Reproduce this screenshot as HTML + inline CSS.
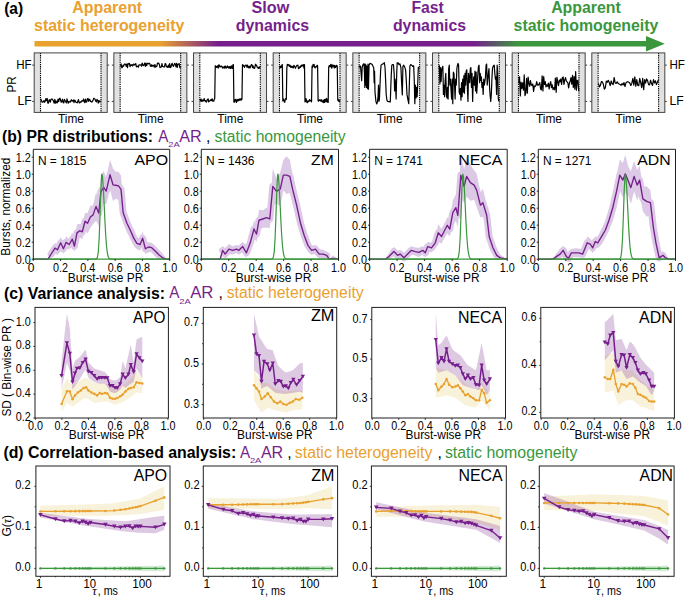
<!DOCTYPE html>
<html><head><meta charset="utf-8"><style>
html,body{margin:0;padding:0;background:#fff;width:685px;height:598px;overflow:hidden}
svg{display:block}
text{font-family:"Liberation Sans", sans-serif}
</style></head><body>
<svg width="685" height="598" viewBox="0 0 685 598">
<rect width="685" height="598" fill="#fff"/>
<text x="4.20" y="13.50" font-size="16.5" fill="#000" font-weight="bold" textLength="19.00" lengthAdjust="spacingAndGlyphs" >(a)</text>
<text x="107.20" y="12.80" font-size="16.3" fill="#E9A12F" font-weight="bold" text-anchor="middle" textLength="70.00" lengthAdjust="spacingAndGlyphs" >Apparent</text>
<text x="109.20" y="31.10" font-size="16.3" fill="#E9A12F" font-weight="bold" text-anchor="middle" textLength="150.20" lengthAdjust="spacingAndGlyphs" >static heterogeneity</text>
<text x="270.40" y="12.80" font-size="16.3" fill="#761F8C" font-weight="bold" text-anchor="middle" textLength="37.80" lengthAdjust="spacingAndGlyphs" >Slow</text>
<text x="272.40" y="31.10" font-size="16.3" fill="#761F8C" font-weight="bold" text-anchor="middle" textLength="73.40" lengthAdjust="spacingAndGlyphs" >dynamics</text>
<text x="427.60" y="12.80" font-size="16.3" fill="#761F8C" font-weight="bold" text-anchor="middle" textLength="32.40" lengthAdjust="spacingAndGlyphs" >Fast</text>
<text x="429.50" y="31.10" font-size="16.3" fill="#761F8C" font-weight="bold" text-anchor="middle" textLength="73.20" lengthAdjust="spacingAndGlyphs" >dynamics</text>
<text x="586.00" y="12.80" font-size="16.3" fill="#3A973D" font-weight="bold" text-anchor="middle" textLength="69.70" lengthAdjust="spacingAndGlyphs" >Apparent</text>
<text x="586.00" y="31.10" font-size="16.3" fill="#3A973D" font-weight="bold" text-anchor="middle" textLength="144.80" lengthAdjust="spacingAndGlyphs" >static homogeneity</text>
<defs><linearGradient id="bar" gradientUnits="userSpaceOnUse" x1="34" y1="0" x2="665" y2="0"><stop offset="0.1997" stop-color="#E9A12F"/><stop offset="0.2916" stop-color="#761F8C"/><stop offset="0.6973" stop-color="#761F8C"/><stop offset="0.7670" stop-color="#3A973D"/></linearGradient></defs>
<rect x="34.5" y="41.0" width="612" height="5.5" fill="url(#bar)"/>
<polygon points="646.00,36.00 664.80,43.75 646.00,51.40" fill="#3A973D" />
<rect x="34.20" y="52.9" width="6.2" height="59.50" fill="#E1E1E1"/>
<rect x="101.00" y="52.9" width="6.2" height="59.50" fill="#E1E1E1"/>
<line x1="40.50" y1="52.9" x2="40.50" y2="112.4" stroke="#000" stroke-width="1.1" stroke-dasharray="1.3 0.9"/>
<line x1="101.00" y1="52.9" x2="101.00" y2="112.4" stroke="#000" stroke-width="1.1" stroke-dasharray="1.3 0.9"/>
<line x1="32.20" y1="65.10" x2="34.20" y2="65.10" stroke="#222" stroke-width="0.9"/>
<line x1="107.20" y1="65.10" x2="109.20" y2="65.10" stroke="#222" stroke-width="0.9"/>
<line x1="32.20" y1="101.40" x2="34.20" y2="101.40" stroke="#222" stroke-width="0.9"/>
<line x1="107.20" y1="101.40" x2="109.20" y2="101.40" stroke="#222" stroke-width="0.9"/>
<polyline points="40.80,98.96 41.44,100.57 42.08,102.21 42.71,101.87 43.35,102.01 43.99,100.45 44.63,102.36 45.27,100.97 45.91,98.62 46.54,100.57 47.18,98.45 47.82,103.05 48.46,103.12 49.10,99.94 49.74,99.81 50.37,102.19 51.01,99.26 51.65,99.13 52.29,99.18 52.93,100.00 53.57,101.46 54.20,103.21 54.84,99.30 55.48,103.17 56.12,101.09 56.76,102.89 57.40,102.45 58.03,99.03 58.67,101.57 59.31,98.85 59.95,98.23 60.59,100.26 61.23,102.22 61.86,101.14 62.50,99.20 63.14,102.57 63.78,102.95 64.42,99.43 65.06,100.53 65.69,101.52 66.33,102.89 66.97,98.86 67.61,101.08 68.25,103.24 68.89,101.37 69.52,101.93 70.16,102.23 70.80,100.84 71.44,99.71 72.08,101.27 72.71,100.95 73.35,99.98 73.99,102.64 74.63,100.09 75.27,100.71 75.91,102.16 76.54,102.43 77.18,102.83 77.82,101.59 78.46,99.51 79.10,102.61 79.74,102.93 80.37,101.92 81.01,102.19 81.65,100.87 82.29,100.77 82.93,101.23 83.57,98.97 84.20,101.72 84.84,102.68 85.48,99.06 86.12,102.12 86.76,101.87 87.40,98.83 88.03,98.46 88.67,101.30 89.31,99.34 89.95,99.81 90.59,101.43 91.23,101.58 91.86,102.09 92.50,101.15 93.14,99.94 93.78,98.27 94.42,98.79 95.06,99.20 95.69,100.93 96.33,101.94 96.97,99.29 97.61,100.23 98.25,103.07 98.89,100.28 99.52,101.91 100.16,101.42 100.80,101.63" fill="none" stroke="#000" stroke-width="1.2" stroke-linejoin="round" />
<rect x="34.20" y="52.9" width="73.0" height="59.50" fill="none" stroke="#444" stroke-width="1"/>
<text x="71.00" y="122.80" font-size="12.2" fill="#000" text-anchor="middle" textLength="26.00" lengthAdjust="spacingAndGlyphs" >Time</text>
<rect x="113.86" y="52.9" width="6.2" height="59.50" fill="#E1E1E1"/>
<rect x="180.66" y="52.9" width="6.2" height="59.50" fill="#E1E1E1"/>
<line x1="120.16" y1="52.9" x2="120.16" y2="112.4" stroke="#000" stroke-width="1.1" stroke-dasharray="1.3 0.9"/>
<line x1="180.66" y1="52.9" x2="180.66" y2="112.4" stroke="#000" stroke-width="1.1" stroke-dasharray="1.3 0.9"/>
<line x1="111.86" y1="65.10" x2="113.86" y2="65.10" stroke="#222" stroke-width="0.9"/>
<line x1="186.86" y1="65.10" x2="188.86" y2="65.10" stroke="#222" stroke-width="0.9"/>
<line x1="111.86" y1="101.40" x2="113.86" y2="101.40" stroke="#222" stroke-width="0.9"/>
<line x1="186.86" y1="101.40" x2="188.86" y2="101.40" stroke="#222" stroke-width="0.9"/>
<polyline points="120.46,65.79 121.10,63.93 121.74,67.63 122.37,67.44 123.01,65.24 123.65,66.18 124.29,64.03 124.93,64.06 125.57,64.38 126.20,66.32 126.84,64.02 127.48,67.66 128.12,63.34 128.76,63.93 129.40,63.43 130.03,66.70 130.67,64.76 131.31,65.26 131.95,64.56 132.59,66.06 133.23,64.94 133.86,64.00 134.50,65.06 135.14,64.46 135.78,63.53 136.42,66.95 137.06,66.26 137.69,66.19 138.33,67.24 138.97,64.89 139.61,64.82 140.25,65.03 140.89,64.94 141.52,66.21 142.16,63.03 142.80,65.23 143.44,65.57 144.08,64.66 144.72,63.10 145.35,66.38 145.99,63.05 146.63,65.71 147.27,63.74 147.91,63.17 148.55,63.87 149.18,63.32 149.82,63.72 150.46,66.29 151.10,66.50 151.74,64.74 152.37,66.13 153.01,65.28 153.65,65.39 154.29,67.20 154.93,64.49 155.57,67.18 156.20,66.32 156.84,66.28 157.48,63.03 158.12,63.40 158.76,63.15 159.40,64.66 160.03,67.54 160.67,67.20 161.31,67.03 161.95,63.57 162.59,66.39 163.23,66.72 163.86,66.88 164.50,66.80 165.14,63.67 165.78,63.86 166.42,66.80 167.06,66.54 167.69,67.28 168.33,65.14 168.97,67.27 169.61,63.67 170.25,67.59 170.89,67.25 171.52,64.62 172.16,63.32 172.80,65.63 173.44,66.31 174.08,64.68 174.72,63.28 175.35,64.34 175.99,66.96 176.63,63.44 177.27,67.50 177.91,64.20 178.55,63.98 179.18,63.54 179.82,67.71 180.46,67.33" fill="none" stroke="#000" stroke-width="1.2" stroke-linejoin="round" />
<rect x="113.86" y="52.9" width="73.0" height="59.50" fill="none" stroke="#444" stroke-width="1"/>
<text x="150.66" y="122.80" font-size="12.2" fill="#000" text-anchor="middle" textLength="26.00" lengthAdjust="spacingAndGlyphs" >Time</text>
<rect x="193.52" y="52.9" width="6.2" height="59.50" fill="#E1E1E1"/>
<rect x="260.32" y="52.9" width="6.2" height="59.50" fill="#E1E1E1"/>
<line x1="199.82" y1="52.9" x2="199.82" y2="112.4" stroke="#000" stroke-width="1.1" stroke-dasharray="1.3 0.9"/>
<line x1="260.32" y1="52.9" x2="260.32" y2="112.4" stroke="#000" stroke-width="1.1" stroke-dasharray="1.3 0.9"/>
<line x1="191.52" y1="65.10" x2="193.52" y2="65.10" stroke="#222" stroke-width="0.9"/>
<line x1="266.52" y1="65.10" x2="268.52" y2="65.10" stroke="#222" stroke-width="0.9"/>
<line x1="191.52" y1="101.40" x2="193.52" y2="101.40" stroke="#222" stroke-width="0.9"/>
<line x1="266.52" y1="101.40" x2="268.52" y2="101.40" stroke="#222" stroke-width="0.9"/>
<polyline points="200.12,98.95 200.62,101.01 201.13,99.05 201.63,101.44 202.14,100.97 202.64,99.99 203.15,101.02 203.65,100.79 204.15,98.49 204.66,100.63 205.16,101.03 205.67,100.59 206.17,102.17 206.67,101.54 207.18,99.96 207.68,99.30 208.19,98.86 208.69,101.86 209.20,101.34 209.70,100.98 210.20,100.24 210.71,100.50 211.21,99.28 211.72,100.63 212.22,98.94 212.73,101.03 213.23,101.07 213.73,101.25 214.24,99.38 214.74,98.70 215.25,65.67 215.75,67.23 216.25,66.44 216.76,67.49 217.26,66.10 217.77,65.95 218.27,68.19 218.78,64.93 219.28,65.11 219.78,66.79 220.29,66.98 220.79,66.10 221.30,66.66 221.80,66.14 222.30,67.14 222.81,68.11 223.31,67.83 223.82,67.01 224.32,66.27 224.83,68.37 225.33,66.17 225.83,66.95 226.34,68.02 226.84,67.21 227.35,65.92 227.85,67.47 228.36,66.84 228.86,68.23 229.36,66.94 229.87,66.55 230.37,68.49 230.88,66.52 231.38,65.95 231.88,68.33 232.39,68.35 232.89,64.96 233.40,64.52 233.90,102.08 234.41,102.18 234.91,99.99 235.41,99.42 235.92,101.31 236.42,102.44 236.93,99.24 237.43,100.27 237.94,101.22 238.44,99.27 238.94,100.13 239.45,98.93 239.95,100.41 240.46,99.31 240.96,98.65 241.46,100.01 241.97,98.96 242.47,64.72 242.98,64.86 243.48,66.04 243.99,65.60 244.49,67.40 244.99,66.02 245.50,65.27 246.00,65.03 246.51,65.51 247.01,67.47 247.51,65.09 248.02,66.25 248.52,67.75 249.03,67.85 249.53,66.23 250.04,67.91 250.54,67.03 251.04,65.20 251.55,64.61 252.05,64.95 252.56,67.68 253.06,65.91 253.57,67.88 254.07,68.46 254.57,68.25 255.08,66.26 255.58,64.23 256.09,65.42 256.59,65.16 257.09,67.06 257.60,67.29 258.10,68.26 258.61,67.30 259.11,68.42 259.62,67.01 260.12,66.29" fill="none" stroke="#000" stroke-width="1.2" stroke-linejoin="round" />
<rect x="193.52" y="52.9" width="73.0" height="59.50" fill="none" stroke="#444" stroke-width="1"/>
<text x="230.32" y="122.80" font-size="12.2" fill="#000" text-anchor="middle" textLength="26.00" lengthAdjust="spacingAndGlyphs" >Time</text>
<rect x="273.18" y="52.9" width="6.2" height="59.50" fill="#E1E1E1"/>
<rect x="339.98" y="52.9" width="6.2" height="59.50" fill="#E1E1E1"/>
<line x1="279.48" y1="52.9" x2="279.48" y2="112.4" stroke="#000" stroke-width="1.1" stroke-dasharray="1.3 0.9"/>
<line x1="339.98" y1="52.9" x2="339.98" y2="112.4" stroke="#000" stroke-width="1.1" stroke-dasharray="1.3 0.9"/>
<line x1="271.18" y1="65.10" x2="273.18" y2="65.10" stroke="#222" stroke-width="0.9"/>
<line x1="346.18" y1="65.10" x2="348.18" y2="65.10" stroke="#222" stroke-width="0.9"/>
<line x1="271.18" y1="101.40" x2="273.18" y2="101.40" stroke="#222" stroke-width="0.9"/>
<line x1="346.18" y1="101.40" x2="348.18" y2="101.40" stroke="#222" stroke-width="0.9"/>
<polyline points="279.78,68.51 280.28,66.21 280.79,67.36 281.29,67.43 281.80,65.15 282.30,64.54 282.81,100.95 283.31,98.84 283.81,99.98 284.32,102.21 284.82,102.14 285.33,98.82 285.83,98.66 286.33,99.28 286.84,67.84 287.34,64.31 287.85,65.19 288.35,64.67 288.86,64.76 289.36,66.50 289.86,65.01 290.37,66.00 290.87,67.43 291.38,67.38 291.88,66.03 292.39,67.66 292.89,66.72 293.39,67.84 293.90,65.30 294.40,65.82 294.91,66.75 295.41,68.36 295.91,66.92 296.42,66.29 296.92,65.30 297.43,65.44 297.93,65.15 298.44,68.54 298.94,68.10 299.44,68.14 299.95,66.53 300.45,67.32 300.96,65.50 301.46,66.32 301.96,64.84 302.47,66.05 302.97,65.31 303.48,64.64 303.98,68.25 304.49,64.63 304.99,101.88 305.49,101.38 306.00,98.70 306.50,100.43 307.01,102.68 307.51,102.64 308.02,100.78 308.52,101.70 309.02,101.42 309.53,99.58 310.03,100.72 310.54,100.93 311.04,100.03 311.54,101.90 312.05,66.15 312.55,67.50 313.06,64.48 313.56,66.16 314.07,64.40 314.57,67.05 315.07,68.04 315.58,66.59 316.08,66.69 316.59,66.94 317.09,65.21 317.60,65.90 318.10,100.85 318.60,101.14 319.11,99.97 319.61,100.40 320.12,99.76 320.62,100.74 321.12,101.27 321.63,99.74 322.13,101.31 322.64,102.04 323.14,100.66 323.65,102.61 324.15,99.66 324.65,102.35 325.16,99.10 325.66,99.90 326.17,101.89 326.67,98.44 327.17,101.00 327.68,102.13 328.18,102.45 328.69,67.20 329.19,65.72 329.70,65.66 330.20,66.98 330.70,64.49 331.21,64.32 331.71,68.08 332.22,66.96 332.72,64.92 333.23,66.09 333.73,65.47 334.23,68.02 334.74,65.46 335.24,67.39 335.75,67.47 336.25,65.60 336.75,65.31 337.26,66.49 337.76,100.06 338.27,100.91 338.77,99.74 339.28,101.80 339.78,100.15" fill="none" stroke="#000" stroke-width="1.2" stroke-linejoin="round" />
<rect x="273.18" y="52.9" width="73.0" height="59.50" fill="none" stroke="#444" stroke-width="1"/>
<text x="309.98" y="122.80" font-size="12.2" fill="#000" text-anchor="middle" textLength="26.00" lengthAdjust="spacingAndGlyphs" >Time</text>
<rect x="352.84" y="52.9" width="6.2" height="59.50" fill="#E1E1E1"/>
<rect x="419.64" y="52.9" width="6.2" height="59.50" fill="#E1E1E1"/>
<line x1="359.14" y1="52.9" x2="359.14" y2="112.4" stroke="#000" stroke-width="1.1" stroke-dasharray="1.3 0.9"/>
<line x1="419.64" y1="52.9" x2="419.64" y2="112.4" stroke="#000" stroke-width="1.1" stroke-dasharray="1.3 0.9"/>
<line x1="350.84" y1="65.10" x2="352.84" y2="65.10" stroke="#222" stroke-width="0.9"/>
<line x1="425.84" y1="65.10" x2="427.84" y2="65.10" stroke="#222" stroke-width="0.9"/>
<line x1="350.84" y1="101.40" x2="352.84" y2="101.40" stroke="#222" stroke-width="0.9"/>
<line x1="425.84" y1="101.40" x2="427.84" y2="101.40" stroke="#222" stroke-width="0.9"/>
<polyline points="359.11,67.52 359.81,65.77 360.51,66.35 361.09,73.36 361.68,80.60 362.15,67.52 362.61,65.77 363.31,64.01 364.01,63.78 364.48,73.36 364.83,87.37 365.18,64.01 365.65,85.04 366.12,65.18 366.58,87.37 367.05,66.35 367.52,88.54 367.99,64.01 368.45,89.12 369.04,65.18 369.85,63.43 371.02,63.78 372.19,64.60 373.01,66.35 373.71,67.52 374.18,82.70 374.53,71.02 374.99,92.04 375.46,96.72 375.93,101.39 376.63,103.96 377.33,102.55 378.03,96.72 378.50,85.04 378.96,101.39 379.43,99.05 379.90,87.37 380.60,71.02 381.07,65.18 381.77,64.60 382.70,64.01 383.64,63.43 384.34,62.61 385.04,67.52 385.62,80.36 386.20,94.38 386.91,100.22 387.61,101.39 389.12,101.62 390.29,101.97 390.88,85.04 391.34,73.36 391.81,65.18 392.63,64.60 393.45,64.60 394.15,73.36 394.61,90.88 395.08,79.20 395.55,85.04 396.13,99.05 396.72,73.36 397.18,62.85 398.12,62.85 399.05,64.60 399.99,63.78 400.92,67.52 401.62,82.70 402.32,94.96 402.91,66.35 403.72,65.18 404.66,66.93 405.59,69.85 406.29,80.36 406.99,94.38 407.81,99.05 408.74,103.72 409.33,85.04 409.91,65.77 410.73,64.60 411.66,65.18 412.60,66.35 413.65,65.77 414.23,79.20 414.82,103.72 415.40,85.04 415.99,97.88 416.57,87.37 417.15,96.72 417.74,83.87 418.32,67.52 419.14,66.93" fill="none" stroke="#000" stroke-width="1.2" stroke-linejoin="round" />
<rect x="352.84" y="52.9" width="73.0" height="59.50" fill="none" stroke="#444" stroke-width="1"/>
<text x="389.64" y="122.80" font-size="12.2" fill="#000" text-anchor="middle" textLength="26.00" lengthAdjust="spacingAndGlyphs" >Time</text>
<rect x="432.50" y="52.9" width="6.2" height="59.50" fill="#E1E1E1"/>
<rect x="499.30" y="52.9" width="6.2" height="59.50" fill="#E1E1E1"/>
<line x1="438.80" y1="52.9" x2="438.80" y2="112.4" stroke="#000" stroke-width="1.1" stroke-dasharray="1.3 0.9"/>
<line x1="499.30" y1="52.9" x2="499.30" y2="112.4" stroke="#000" stroke-width="1.1" stroke-dasharray="1.3 0.9"/>
<line x1="430.50" y1="65.10" x2="432.50" y2="65.10" stroke="#222" stroke-width="0.9"/>
<line x1="505.50" y1="65.10" x2="507.50" y2="65.10" stroke="#222" stroke-width="0.9"/>
<line x1="430.50" y1="101.40" x2="432.50" y2="101.40" stroke="#222" stroke-width="0.9"/>
<line x1="505.50" y1="101.40" x2="507.50" y2="101.40" stroke="#222" stroke-width="0.9"/>
<polyline points="439.34,65.18 439.93,83.87 440.51,67.52 441.09,81.53 441.68,69.85 442.26,67.52 442.85,66.35 443.43,94.38 444.01,85.04 444.60,96.72 445.18,80.36 445.77,73.36 446.35,94.38 446.93,97.88 447.52,87.37 448.10,99.05 448.69,68.69 449.27,65.18 449.85,85.04 450.44,79.20 451.02,89.71 451.61,99.05 452.19,79.20 452.77,103.72 453.36,72.19 453.94,73.36 454.53,85.04 455.11,99.05 455.69,79.20 456.28,85.04 456.86,68.69 457.45,65.18 458.03,63.43 458.61,65.18 459.20,92.04 459.78,94.38 460.36,88.54 460.95,100.22 461.53,82.70 462.12,96.72 462.70,79.20 463.28,92.04 463.87,75.69 464.45,93.21 465.04,73.36 465.62,85.04 466.20,71.02 466.79,69.85 467.37,87.37 467.96,101.39 468.54,73.36 469.12,79.20 469.71,82.70 470.29,68.69 470.88,67.52 471.46,87.37 472.04,73.36 472.63,101.39 473.21,82.70 473.80,76.86 474.38,85.04 474.96,71.02 475.55,90.88 476.13,72.19 476.72,93.21 477.30,85.04 477.88,73.36 478.47,66.35 479.05,65.18 479.64,82.70 480.22,73.36 480.80,80.36 481.39,76.86 481.97,87.37 482.55,82.70 483.14,94.38 483.72,79.20 484.31,85.04 484.89,81.53 485.47,76.86 486.06,65.18 486.64,64.01 487.23,85.04 487.81,79.20 488.39,73.36 488.98,68.69 489.56,87.37 490.15,95.55 490.73,101.39 491.31,94.38 491.90,79.20 492.48,68.69 493.07,66.35 493.65,65.77 494.23,65.18 494.82,73.36 495.40,79.20 495.99,76.86 496.57,94.38 497.15,65.18 497.74,73.36 498.32,99.05 498.91,101.39" fill="none" stroke="#000" stroke-width="1.2" stroke-linejoin="round" />
<rect x="432.50" y="52.9" width="73.0" height="59.50" fill="none" stroke="#444" stroke-width="1"/>
<text x="469.30" y="122.80" font-size="12.2" fill="#000" text-anchor="middle" textLength="26.00" lengthAdjust="spacingAndGlyphs" >Time</text>
<rect x="512.16" y="52.9" width="6.2" height="59.50" fill="#E1E1E1"/>
<rect x="578.96" y="52.9" width="6.2" height="59.50" fill="#E1E1E1"/>
<line x1="518.46" y1="52.9" x2="518.46" y2="112.4" stroke="#000" stroke-width="1.1" stroke-dasharray="1.3 0.9"/>
<line x1="578.96" y1="52.9" x2="578.96" y2="112.4" stroke="#000" stroke-width="1.1" stroke-dasharray="1.3 0.9"/>
<line x1="510.16" y1="65.10" x2="512.16" y2="65.10" stroke="#222" stroke-width="0.9"/>
<line x1="585.16" y1="65.10" x2="587.16" y2="65.10" stroke="#222" stroke-width="0.9"/>
<line x1="510.16" y1="101.40" x2="512.16" y2="101.40" stroke="#222" stroke-width="0.9"/>
<line x1="585.16" y1="101.40" x2="587.16" y2="101.40" stroke="#222" stroke-width="0.9"/>
<polyline points="518.76,83.37 519.54,76.83 520.32,95.90 521.10,82.10 521.88,88.40 522.66,82.89 523.44,90.24 524.21,74.89 524.99,95.58 525.77,92.85 526.55,78.23 527.33,93.19 528.11,77.15 528.89,83.14 529.67,86.28 530.45,80.68 531.23,84.73 532.01,85.61 532.79,83.92 533.57,91.32 534.34,85.94 535.12,86.51 535.90,85.30 536.68,81.70 537.46,85.04 538.24,85.12 539.02,84.26 539.80,82.50 540.58,89.03 541.36,89.77 542.14,75.87 542.92,90.93 543.70,76.54 544.47,84.47 545.25,81.57 546.03,86.83 546.81,84.92 547.59,86.31 548.37,83.06 549.15,88.86 549.93,84.17 550.71,81.57 551.49,87.66 552.27,84.75 553.05,89.57 553.82,87.66 554.60,89.77 555.38,78.02 556.16,92.33 556.94,77.23 557.72,81.80 558.50,85.59 559.28,80.06 560.06,81.84 560.84,78.98 561.62,84.52 562.40,77.44 563.18,77.04 563.95,84.49 564.73,79.89 565.51,77.66 566.29,80.95 567.07,81.92 567.85,82.72 568.63,87.84 569.41,83.51 570.19,80.94 570.97,77.61 571.75,84.08 572.53,75.35 573.31,87.45 574.08,76.65 574.86,89.16 575.64,71.52 576.42,90.20 577.20,80.44 577.98,80.51 578.76,91.22" fill="none" stroke="#000" stroke-width="1.2" stroke-linejoin="round" />
<rect x="512.16" y="52.9" width="73.0" height="59.50" fill="none" stroke="#444" stroke-width="1"/>
<text x="548.96" y="122.80" font-size="12.2" fill="#000" text-anchor="middle" textLength="26.00" lengthAdjust="spacingAndGlyphs" >Time</text>
<rect x="591.82" y="52.9" width="6.2" height="59.50" fill="#E1E1E1"/>
<rect x="658.62" y="52.9" width="6.2" height="59.50" fill="#E1E1E1"/>
<line x1="598.12" y1="52.9" x2="598.12" y2="112.4" stroke="#000" stroke-width="1.1" stroke-dasharray="1.3 0.9"/>
<line x1="658.62" y1="52.9" x2="658.62" y2="112.4" stroke="#000" stroke-width="1.1" stroke-dasharray="1.3 0.9"/>
<line x1="589.82" y1="65.10" x2="591.82" y2="65.10" stroke="#222" stroke-width="0.9"/>
<line x1="664.82" y1="65.10" x2="666.82" y2="65.10" stroke="#222" stroke-width="0.9"/>
<line x1="589.82" y1="101.40" x2="591.82" y2="101.40" stroke="#222" stroke-width="0.9"/>
<line x1="664.82" y1="101.40" x2="666.82" y2="101.40" stroke="#222" stroke-width="0.9"/>
<polyline points="598.42,83.38 599.40,86.82 600.39,85.43 601.37,81.55 602.35,81.87 603.34,84.27 604.32,89.21 605.31,87.86 606.29,81.08 607.27,82.36 608.26,80.25 609.24,82.45 610.22,85.55 611.21,80.97 612.19,83.79 613.17,84.66 614.16,77.47 615.14,82.96 616.12,83.33 617.11,81.81 618.09,83.30 619.08,84.08 620.06,84.58 621.04,85.33 622.03,83.51 623.01,84.96 623.99,82.59 624.98,86.48 625.96,82.93 626.94,81.93 627.93,81.92 628.91,82.21 629.90,83.26 630.88,85.52 631.86,83.13 632.85,78.28 633.83,85.19 634.81,76.73 635.80,86.28 636.78,79.56 637.76,85.52 638.75,85.66 639.73,78.46 640.72,82.73 641.70,87.60 642.68,78.47 643.67,89.71 644.65,79.49 645.63,83.22 646.62,78.93 647.60,80.66 648.58,84.71 649.57,84.88 650.55,80.22 651.53,83.38 652.52,85.47 653.50,79.56 654.49,82.90 655.47,80.82 656.45,84.62 657.44,82.33 658.42,79.69" fill="none" stroke="#000" stroke-width="1.2" stroke-linejoin="round" />
<rect x="591.82" y="52.9" width="73.0" height="59.50" fill="none" stroke="#444" stroke-width="1"/>
<text x="628.62" y="122.80" font-size="12.2" fill="#000" text-anchor="middle" textLength="26.00" lengthAdjust="spacingAndGlyphs" >Time</text>
<text x="31.60" y="68.60" font-size="12" fill="#000" text-anchor="end" textLength="15.40" lengthAdjust="spacingAndGlyphs" >HF</text>
<text x="31.60" y="104.60" font-size="12" fill="#000" text-anchor="end" textLength="14.20" lengthAdjust="spacingAndGlyphs" >LF</text>
<text x="669.40" y="68.60" font-size="12" fill="#000" textLength="15.40" lengthAdjust="spacingAndGlyphs" >HF</text>
<text x="669.40" y="104.60" font-size="12" fill="#000" textLength="14.20" lengthAdjust="spacingAndGlyphs" >LF</text>
<text transform="translate(15.9,84.4) rotate(-90)" font-size="12" text-anchor="middle" textLength="16.2" lengthAdjust="spacingAndGlyphs">PR</text>
<text x="2.00" y="142.20" font-size="16" fill="#000" font-weight="bold" textLength="150.90" lengthAdjust="spacingAndGlyphs" >(b) PR distributions:</text>
<text x="158.20" y="142.00" font-size="15.8" fill="#761F8C" textLength="10.20" lengthAdjust="spacingAndGlyphs" >A</text>
<text x="168.20" y="147.30" font-size="8.0" fill="#761F8C" textLength="11.50" lengthAdjust="spacingAndGlyphs" >2A</text>
<text x="179.20" y="142.00" font-size="15.8" fill="#761F8C" textLength="22.50" lengthAdjust="spacingAndGlyphs" >AR</text>
<text x="206.00" y="142.00" font-size="15.8" fill="#000" >,</text>
<text x="214.60" y="142.00" font-size="15.8" fill="#3A973D" textLength="131.00" lengthAdjust="spacingAndGlyphs" >static homogeneity</text>
<polygon points="33.30,259.20 47.99,259.20 51.17,250.10 54.98,242.98 57.52,244.39 60.69,236.94 63.45,243.81 65.99,236.19 69.16,239.46 72.34,232.61 74.45,240.61 76.99,224.42 79.75,223.81 82.29,224.47 85.04,212.87 87.58,213.01 90.33,205.85 93.08,205.74 96.05,192.09 98.80,200.30 100.91,175.93 103.67,171.12 106.21,177.96 110.02,159.78 112.98,168.60 115.73,171.66 118.48,171.68 121.02,175.57 123.14,203.36 126.95,214.11 130.55,222.86 133.73,230.61 136.90,237.57 140.08,238.58 142.62,231.40 145.37,243.55 148.54,241.91 151.72,242.97 154.89,245.54 159.13,250.64 163.36,254.63 166.54,259.20 169.70,259.20 169.70,259.20 166.54,259.20 163.36,259.20 159.13,259.20 154.89,256.14 151.72,252.37 148.54,252.15 145.37,253.90 142.62,244.89 140.08,250.40 136.90,249.29 133.73,245.67 130.55,238.60 126.95,232.54 123.14,222.12 121.02,203.34 118.48,200.03 115.73,198.78 112.98,200.99 110.02,189.50 106.21,204.33 103.67,203.55 100.91,207.21 98.80,226.02 96.05,220.69 93.08,223.97 90.33,228.10 87.58,233.64 85.04,229.55 82.29,239.11 79.75,237.65 76.99,241.28 74.45,251.77 72.34,245.79 69.16,249.52 65.99,248.56 63.45,253.64 60.69,248.66 57.52,255.18 54.98,253.20 51.17,257.93 47.99,259.20 33.30,259.20" fill="#DCC9E6" />
<polyline points="51.17,254.02 54.98,248.09 57.52,249.78 60.69,242.80 63.45,248.73 65.99,242.38 69.16,244.49 72.34,239.20 74.45,246.19 76.99,232.85 79.75,230.73 82.29,231.79 85.04,221.21 87.58,223.32 90.33,216.97 93.08,214.86 96.05,206.39 98.80,213.16 100.91,191.57 103.67,187.34 106.21,191.15 110.02,174.64 112.98,184.80 115.73,185.22 118.48,185.86 121.02,189.45 123.14,212.74 126.95,223.32 130.55,230.73 133.73,238.14 136.90,243.43 140.08,244.49 142.62,238.14 145.37,248.73 148.54,247.03 151.72,247.67 154.89,250.84 159.13,255.08" fill="none" stroke="#DCC9E6" stroke-width="7.0" stroke-linejoin="round" stroke-linecap="round"/>
<line x1="33.30" y1="259.20" x2="169.70" y2="259.20" stroke="#3A973D" stroke-width="1.3"/>
<polyline points="33.30,259.20 47.99,259.20 51.17,254.02 54.98,248.09 57.52,249.78 60.69,242.80 63.45,248.73 65.99,242.38 69.16,244.49 72.34,239.20 74.45,246.19 76.99,232.85 79.75,230.73 82.29,231.79 85.04,221.21 87.58,223.32 90.33,216.97 93.08,214.86 96.05,206.39 98.80,213.16 100.91,191.57 103.67,187.34 106.21,191.15 110.02,174.64 112.98,184.80 115.73,185.22 118.48,185.86 121.02,189.45 123.14,212.74 126.95,223.32 130.55,230.73 133.73,238.14 136.90,243.43 140.08,244.49 142.62,238.14 145.37,248.73 148.54,247.03 151.72,247.67 154.89,250.84 159.13,255.08 163.36,258.25 166.54,259.20 169.70,259.20" fill="none" stroke="#761F8C" stroke-width="1.35" stroke-linejoin="round" />
<polyline points="33.30,259.20 91.00,259.20 91.82,259.20 92.63,259.20 93.45,259.20 94.27,259.20 95.09,259.19 95.91,259.10 96.73,258.64 97.54,256.77 98.36,251.07 99.18,238.01 100.00,216.16 100.82,191.14 101.64,175.37 101.91,174.20 102.45,176.39 103.27,187.00 104.09,203.24 104.91,220.63 105.73,235.57 106.55,246.32 107.37,252.96 108.18,256.51 109.00,258.17 109.82,258.85 110.64,259.09 111.46,259.17 112.28,259.19 169.70,259.20" fill="none" stroke="#3A973D" stroke-width="1.2" stroke-linejoin="round" />
<path d="M33.30,259.70 V149.3 H169.70 V259.70" fill="none" stroke="#1e1e1e" stroke-width="1.0"/>
<line x1="31.70" y1="259.20" x2="33.30" y2="259.20" stroke="#1e1e1e" stroke-width="0.9"/>
<text x="30.70" y="263.50" font-size="12" fill="#000" text-anchor="end" textLength="15.00" lengthAdjust="spacingAndGlyphs" >0.0</text>
<line x1="31.70" y1="242.20" x2="33.30" y2="242.20" stroke="#1e1e1e" stroke-width="0.9"/>
<text x="30.70" y="246.50" font-size="12" fill="#000" text-anchor="end" textLength="15.00" lengthAdjust="spacingAndGlyphs" >0.2</text>
<line x1="31.70" y1="225.20" x2="33.30" y2="225.20" stroke="#1e1e1e" stroke-width="0.9"/>
<text x="30.70" y="229.50" font-size="12" fill="#000" text-anchor="end" textLength="15.00" lengthAdjust="spacingAndGlyphs" >0.4</text>
<line x1="31.70" y1="208.20" x2="33.30" y2="208.20" stroke="#1e1e1e" stroke-width="0.9"/>
<text x="30.70" y="212.50" font-size="12" fill="#000" text-anchor="end" textLength="15.00" lengthAdjust="spacingAndGlyphs" >0.6</text>
<line x1="31.70" y1="191.20" x2="33.30" y2="191.20" stroke="#1e1e1e" stroke-width="0.9"/>
<text x="30.70" y="195.50" font-size="12" fill="#000" text-anchor="end" textLength="15.00" lengthAdjust="spacingAndGlyphs" >0.8</text>
<line x1="31.70" y1="174.20" x2="33.30" y2="174.20" stroke="#1e1e1e" stroke-width="0.9"/>
<text x="30.70" y="178.50" font-size="12" fill="#000" text-anchor="end" textLength="15.00" lengthAdjust="spacingAndGlyphs" >1.0</text>
<line x1="31.70" y1="157.20" x2="33.30" y2="157.20" stroke="#1e1e1e" stroke-width="0.9"/>
<text x="30.70" y="161.50" font-size="12" fill="#000" text-anchor="end" textLength="15.00" lengthAdjust="spacingAndGlyphs" >1.2</text>
<line x1="33.30" y1="259.20" x2="33.30" y2="261.00" stroke="#1e1e1e" stroke-width="0.9"/>
<text x="31.00" y="271.50" font-size="12" fill="#000" text-anchor="middle" >0</text>
<line x1="60.58" y1="259.20" x2="60.58" y2="261.00" stroke="#1e1e1e" stroke-width="0.9"/>
<text x="60.58" y="271.50" font-size="12" fill="#000" text-anchor="middle" textLength="15.00" lengthAdjust="spacingAndGlyphs" >0.2</text>
<line x1="87.86" y1="259.20" x2="87.86" y2="261.00" stroke="#1e1e1e" stroke-width="0.9"/>
<text x="87.86" y="271.50" font-size="12" fill="#000" text-anchor="middle" textLength="15.00" lengthAdjust="spacingAndGlyphs" >0.4</text>
<line x1="115.14" y1="259.20" x2="115.14" y2="261.00" stroke="#1e1e1e" stroke-width="0.9"/>
<text x="115.14" y="271.50" font-size="12" fill="#000" text-anchor="middle" textLength="15.00" lengthAdjust="spacingAndGlyphs" >0.6</text>
<line x1="142.42" y1="259.20" x2="142.42" y2="261.00" stroke="#1e1e1e" stroke-width="0.9"/>
<text x="142.42" y="271.50" font-size="12" fill="#000" text-anchor="middle" textLength="15.00" lengthAdjust="spacingAndGlyphs" >0.8</text>
<line x1="169.70" y1="259.20" x2="169.70" y2="261.00" stroke="#1e1e1e" stroke-width="0.9"/>
<text x="169.70" y="271.50" font-size="12" fill="#000" text-anchor="middle" textLength="15.00" lengthAdjust="spacingAndGlyphs" >1.0</text>
<text x="105.50" y="281.50" font-size="12" fill="#000" text-anchor="middle" textLength="75.50" lengthAdjust="spacingAndGlyphs" >Burst-wise PR</text>
<text x="37.90" y="164.70" font-size="12" fill="#000" textLength="48.60" lengthAdjust="spacingAndGlyphs" >N = 1815</text>
<text x="168.10" y="164.80" font-size="15.5" fill="#000" text-anchor="end" textLength="33.60" lengthAdjust="spacingAndGlyphs" >APO</text>
<polygon points="201.30,259.20 220.14,259.20 222.64,245.75 225.15,249.91 228.91,243.96 232.67,246.27 236.43,245.05 238.94,245.91 242.70,241.70 246.46,248.21 250.23,236.49 253.99,220.39 256.49,226.42 259.00,209.83 262.76,210.13 266.52,207.64 269.78,210.07 272.79,168.44 276.55,178.76 280.32,171.90 283.32,159.95 286.58,156.25 289.84,159.82 292.85,175.54 296.61,191.25 300.38,214.87 304.14,229.13 307.90,239.04 311.66,245.70 315.42,244.91 319.18,249.47 322.94,249.52 326.71,252.10 329.21,259.20 332.97,255.22 338.50,259.20 338.50,259.20 332.97,259.20 329.21,259.20 326.71,258.60 322.94,258.66 319.18,258.72 315.42,253.24 311.66,254.97 307.90,251.59 304.14,241.44 300.38,230.63 296.61,219.14 292.85,204.77 289.84,192.89 286.58,193.97 283.32,190.26 280.32,205.89 276.55,204.05 272.79,204.34 269.78,227.91 266.52,227.82 262.76,227.85 259.00,230.65 256.49,241.64 253.99,237.64 250.23,249.13 246.46,257.47 242.70,251.44 238.94,254.75 236.43,253.11 232.67,254.39 228.91,254.19 225.15,258.27 222.64,254.91 220.14,259.20 201.30,259.20" fill="#DCC9E6" />
<polyline points="222.64,250.33 225.15,254.09 228.91,249.08 232.67,250.33 236.43,249.08 238.94,250.33 242.70,246.57 246.46,252.84 250.23,242.81 253.99,229.02 256.49,234.03 259.00,220.24 262.76,218.99 266.52,217.73 269.78,218.99 272.79,186.39 276.55,191.40 280.32,188.90 283.32,175.11 286.58,175.11 289.84,176.36 292.85,190.15 296.61,205.20 300.38,222.75 304.14,235.29 307.90,245.32 311.66,250.33 315.42,249.08 319.18,254.09 322.94,254.09 326.71,255.35" fill="none" stroke="#DCC9E6" stroke-width="7.0" stroke-linejoin="round" stroke-linecap="round"/>
<line x1="201.30" y1="259.20" x2="338.50" y2="259.20" stroke="#3A973D" stroke-width="1.3"/>
<polyline points="201.30,259.20 220.14,259.20 222.64,250.33 225.15,254.09 228.91,249.08 232.67,250.33 236.43,249.08 238.94,250.33 242.70,246.57 246.46,252.84 250.23,242.81 253.99,229.02 256.49,234.03 259.00,220.24 262.76,218.99 266.52,217.73 269.78,218.99 272.79,186.39 276.55,191.40 280.32,188.90 283.32,175.11 286.58,175.11 289.84,176.36 292.85,190.15 296.61,205.20 300.38,222.75 304.14,235.29 307.90,245.32 311.66,250.33 315.42,249.08 319.18,254.09 322.94,254.09 326.71,255.35 329.21,259.20 332.97,258.36 338.50,259.20" fill="none" stroke="#761F8C" stroke-width="1.35" stroke-linejoin="round" />
<polyline points="201.30,259.20 266.88,259.20 267.70,259.20 268.53,259.20 269.35,259.20 270.17,259.20 271.00,259.19 271.82,259.10 272.64,258.64 273.47,256.77 274.29,251.07 275.11,238.01 275.94,216.16 276.76,191.14 277.58,175.37 277.86,174.20 278.41,176.39 279.23,187.00 280.05,203.24 280.88,220.63 281.70,235.57 282.52,246.32 283.35,252.96 284.17,256.51 284.99,258.17 285.82,258.85 286.64,259.09 287.46,259.17 288.28,259.19 338.50,259.20" fill="none" stroke="#3A973D" stroke-width="1.2" stroke-linejoin="round" />
<path d="M201.30,259.70 V149.3 H338.50 V259.70" fill="none" stroke="#1e1e1e" stroke-width="1.0"/>
<line x1="199.70" y1="259.20" x2="201.30" y2="259.20" stroke="#1e1e1e" stroke-width="0.9"/>
<text x="198.70" y="263.50" font-size="12" fill="#000" text-anchor="end" textLength="15.00" lengthAdjust="spacingAndGlyphs" >0.0</text>
<line x1="199.70" y1="242.20" x2="201.30" y2="242.20" stroke="#1e1e1e" stroke-width="0.9"/>
<text x="198.70" y="246.50" font-size="12" fill="#000" text-anchor="end" textLength="15.00" lengthAdjust="spacingAndGlyphs" >0.2</text>
<line x1="199.70" y1="225.20" x2="201.30" y2="225.20" stroke="#1e1e1e" stroke-width="0.9"/>
<text x="198.70" y="229.50" font-size="12" fill="#000" text-anchor="end" textLength="15.00" lengthAdjust="spacingAndGlyphs" >0.4</text>
<line x1="199.70" y1="208.20" x2="201.30" y2="208.20" stroke="#1e1e1e" stroke-width="0.9"/>
<text x="198.70" y="212.50" font-size="12" fill="#000" text-anchor="end" textLength="15.00" lengthAdjust="spacingAndGlyphs" >0.6</text>
<line x1="199.70" y1="191.20" x2="201.30" y2="191.20" stroke="#1e1e1e" stroke-width="0.9"/>
<text x="198.70" y="195.50" font-size="12" fill="#000" text-anchor="end" textLength="15.00" lengthAdjust="spacingAndGlyphs" >0.8</text>
<line x1="199.70" y1="174.20" x2="201.30" y2="174.20" stroke="#1e1e1e" stroke-width="0.9"/>
<text x="198.70" y="178.50" font-size="12" fill="#000" text-anchor="end" textLength="15.00" lengthAdjust="spacingAndGlyphs" >1.0</text>
<line x1="199.70" y1="157.20" x2="201.30" y2="157.20" stroke="#1e1e1e" stroke-width="0.9"/>
<text x="198.70" y="161.50" font-size="12" fill="#000" text-anchor="end" textLength="15.00" lengthAdjust="spacingAndGlyphs" >1.2</text>
<line x1="201.30" y1="259.20" x2="201.30" y2="261.00" stroke="#1e1e1e" stroke-width="0.9"/>
<text x="199.00" y="271.50" font-size="12" fill="#000" text-anchor="middle" >0</text>
<line x1="228.74" y1="259.20" x2="228.74" y2="261.00" stroke="#1e1e1e" stroke-width="0.9"/>
<text x="228.74" y="271.50" font-size="12" fill="#000" text-anchor="middle" textLength="15.00" lengthAdjust="spacingAndGlyphs" >0.2</text>
<line x1="256.18" y1="259.20" x2="256.18" y2="261.00" stroke="#1e1e1e" stroke-width="0.9"/>
<text x="256.18" y="271.50" font-size="12" fill="#000" text-anchor="middle" textLength="15.00" lengthAdjust="spacingAndGlyphs" >0.4</text>
<line x1="283.62" y1="259.20" x2="283.62" y2="261.00" stroke="#1e1e1e" stroke-width="0.9"/>
<text x="283.62" y="271.50" font-size="12" fill="#000" text-anchor="middle" textLength="15.00" lengthAdjust="spacingAndGlyphs" >0.6</text>
<line x1="311.06" y1="259.20" x2="311.06" y2="261.00" stroke="#1e1e1e" stroke-width="0.9"/>
<text x="311.06" y="271.50" font-size="12" fill="#000" text-anchor="middle" textLength="15.00" lengthAdjust="spacingAndGlyphs" >0.8</text>
<line x1="338.50" y1="259.20" x2="338.50" y2="261.00" stroke="#1e1e1e" stroke-width="0.9"/>
<text x="338.50" y="271.50" font-size="12" fill="#000" text-anchor="middle" textLength="15.00" lengthAdjust="spacingAndGlyphs" >1.0</text>
<text x="273.50" y="281.50" font-size="12" fill="#000" text-anchor="middle" textLength="75.50" lengthAdjust="spacingAndGlyphs" >Burst-wise PR</text>
<text x="205.90" y="164.70" font-size="12" fill="#000" textLength="48.60" lengthAdjust="spacingAndGlyphs" >N = 1436</text>
<text x="333.70" y="164.80" font-size="15.5" fill="#000" text-anchor="end" textLength="22.60" lengthAdjust="spacingAndGlyphs" >ZM</text>
<polygon points="369.60,259.20 385.12,259.20 388.88,253.36 393.90,246.90 397.66,251.36 400.17,249.65 403.93,254.90 407.69,250.49 411.45,246.27 415.21,247.60 418.97,247.72 422.73,246.29 425.24,248.61 427.75,241.81 431.51,243.12 435.27,237.02 438.28,224.21 441.54,229.26 444.05,224.94 447.31,216.95 449.81,221.69 452.82,200.13 455.83,194.38 457.84,203.37 460.85,155.40 464.11,169.31 466.61,156.16 470.38,164.56 474.14,170.48 476.64,173.24 480.41,192.77 482.91,188.64 486.68,204.25 489.18,229.68 492.94,243.00 496.71,251.69 500.47,254.75 507.20,259.20 507.20,259.20 500.47,259.20 496.71,259.00 492.94,252.65 489.18,243.39 486.68,226.20 482.91,216.74 480.41,217.62 476.64,207.06 474.14,199.79 470.38,200.69 466.61,196.56 464.11,203.47 460.85,194.81 457.84,227.09 455.83,221.03 452.82,225.31 449.81,236.35 447.31,233.56 444.05,238.11 441.54,243.82 438.28,241.34 435.27,248.60 431.51,252.53 427.75,251.33 425.24,257.07 422.73,254.37 418.97,256.95 415.21,255.57 411.45,254.39 407.69,257.69 403.93,259.20 400.17,258.53 397.66,259.20 393.90,256.27 388.88,259.20 385.12,259.20 369.60,259.20" fill="#DCC9E6" />
<polyline points="393.90,251.58 397.66,255.35 400.17,254.09 403.93,257.85 407.69,254.09 411.45,250.33 415.21,251.58 418.97,252.34 422.73,250.33 425.24,252.84 427.75,246.57 431.51,247.82 435.27,242.81 438.28,232.78 441.54,236.54 444.05,231.52 447.31,225.26 449.81,229.02 452.82,212.72 455.83,207.70 457.84,215.23 460.85,175.11 464.11,186.39 466.61,176.36 470.38,182.63 474.14,185.14 476.64,190.15 480.41,205.20 482.91,202.69 486.68,215.23 489.18,236.54 492.94,247.82 496.71,255.35" fill="none" stroke="#DCC9E6" stroke-width="7.0" stroke-linejoin="round" stroke-linecap="round"/>
<line x1="369.60" y1="259.20" x2="507.20" y2="259.20" stroke="#3A973D" stroke-width="1.3"/>
<polyline points="369.60,259.20 385.12,259.20 388.88,256.60 393.90,251.58 397.66,255.35 400.17,254.09 403.93,257.85 407.69,254.09 411.45,250.33 415.21,251.58 418.97,252.34 422.73,250.33 425.24,252.84 427.75,246.57 431.51,247.82 435.27,242.81 438.28,232.78 441.54,236.54 444.05,231.52 447.31,225.26 449.81,229.02 452.82,212.72 455.83,207.70 457.84,215.23 460.85,175.11 464.11,186.39 466.61,176.36 470.38,182.63 474.14,185.14 476.64,190.15 480.41,205.20 482.91,202.69 486.68,215.23 489.18,236.54 492.94,247.82 496.71,255.35 500.47,257.85 507.20,259.20" fill="none" stroke="#761F8C" stroke-width="1.35" stroke-linejoin="round" />
<polyline points="369.60,259.20 451.88,259.20 452.71,259.20 453.54,259.20 454.36,259.20 455.19,259.20 456.01,259.19 456.84,259.10 457.66,258.64 458.49,256.77 459.32,251.07 460.14,238.01 460.97,216.16 461.79,191.14 462.62,175.37 462.89,174.20 463.44,176.39 464.27,187.00 465.09,203.24 465.92,220.63 466.75,235.57 467.57,246.32 468.40,252.96 469.22,256.51 470.05,258.17 470.87,258.85 471.70,259.09 472.52,259.17 473.35,259.19 507.20,259.20" fill="none" stroke="#3A973D" stroke-width="1.2" stroke-linejoin="round" />
<path d="M369.60,259.70 V149.3 H507.20 V259.70" fill="none" stroke="#1e1e1e" stroke-width="1.0"/>
<line x1="368.00" y1="259.20" x2="369.60" y2="259.20" stroke="#1e1e1e" stroke-width="0.9"/>
<text x="367.00" y="263.50" font-size="12" fill="#000" text-anchor="end" textLength="15.00" lengthAdjust="spacingAndGlyphs" >0.0</text>
<line x1="368.00" y1="242.20" x2="369.60" y2="242.20" stroke="#1e1e1e" stroke-width="0.9"/>
<text x="367.00" y="246.50" font-size="12" fill="#000" text-anchor="end" textLength="15.00" lengthAdjust="spacingAndGlyphs" >0.2</text>
<line x1="368.00" y1="225.20" x2="369.60" y2="225.20" stroke="#1e1e1e" stroke-width="0.9"/>
<text x="367.00" y="229.50" font-size="12" fill="#000" text-anchor="end" textLength="15.00" lengthAdjust="spacingAndGlyphs" >0.4</text>
<line x1="368.00" y1="208.20" x2="369.60" y2="208.20" stroke="#1e1e1e" stroke-width="0.9"/>
<text x="367.00" y="212.50" font-size="12" fill="#000" text-anchor="end" textLength="15.00" lengthAdjust="spacingAndGlyphs" >0.6</text>
<line x1="368.00" y1="191.20" x2="369.60" y2="191.20" stroke="#1e1e1e" stroke-width="0.9"/>
<text x="367.00" y="195.50" font-size="12" fill="#000" text-anchor="end" textLength="15.00" lengthAdjust="spacingAndGlyphs" >0.8</text>
<line x1="368.00" y1="174.20" x2="369.60" y2="174.20" stroke="#1e1e1e" stroke-width="0.9"/>
<text x="367.00" y="178.50" font-size="12" fill="#000" text-anchor="end" textLength="15.00" lengthAdjust="spacingAndGlyphs" >1.0</text>
<line x1="368.00" y1="157.20" x2="369.60" y2="157.20" stroke="#1e1e1e" stroke-width="0.9"/>
<text x="367.00" y="161.50" font-size="12" fill="#000" text-anchor="end" textLength="15.00" lengthAdjust="spacingAndGlyphs" >1.2</text>
<line x1="369.60" y1="259.20" x2="369.60" y2="261.00" stroke="#1e1e1e" stroke-width="0.9"/>
<text x="367.30" y="271.50" font-size="12" fill="#000" text-anchor="middle" >0</text>
<line x1="397.12" y1="259.20" x2="397.12" y2="261.00" stroke="#1e1e1e" stroke-width="0.9"/>
<text x="397.12" y="271.50" font-size="12" fill="#000" text-anchor="middle" textLength="15.00" lengthAdjust="spacingAndGlyphs" >0.2</text>
<line x1="424.64" y1="259.20" x2="424.64" y2="261.00" stroke="#1e1e1e" stroke-width="0.9"/>
<text x="424.64" y="271.50" font-size="12" fill="#000" text-anchor="middle" textLength="15.00" lengthAdjust="spacingAndGlyphs" >0.4</text>
<line x1="452.16" y1="259.20" x2="452.16" y2="261.00" stroke="#1e1e1e" stroke-width="0.9"/>
<text x="452.16" y="271.50" font-size="12" fill="#000" text-anchor="middle" textLength="15.00" lengthAdjust="spacingAndGlyphs" >0.6</text>
<line x1="479.68" y1="259.20" x2="479.68" y2="261.00" stroke="#1e1e1e" stroke-width="0.9"/>
<text x="479.68" y="271.50" font-size="12" fill="#000" text-anchor="middle" textLength="15.00" lengthAdjust="spacingAndGlyphs" >0.8</text>
<line x1="507.20" y1="259.20" x2="507.20" y2="261.00" stroke="#1e1e1e" stroke-width="0.9"/>
<text x="507.20" y="271.50" font-size="12" fill="#000" text-anchor="middle" textLength="15.00" lengthAdjust="spacingAndGlyphs" >1.0</text>
<text x="441.80" y="281.50" font-size="12" fill="#000" text-anchor="middle" textLength="75.50" lengthAdjust="spacingAndGlyphs" >Burst-wise PR</text>
<text x="374.20" y="164.70" font-size="12" fill="#000" textLength="48.60" lengthAdjust="spacingAndGlyphs" >N = 1741</text>
<text x="502.40" y="164.80" font-size="15.5" fill="#000" text-anchor="end" textLength="44.20" lengthAdjust="spacingAndGlyphs" >NECA</text>
<polygon points="538.30,259.20 552.61,259.20 556.37,253.55 560.14,249.85 563.14,245.47 566.40,252.54 568.41,255.38 571.42,249.00 575.18,248.32 578.94,248.43 582.70,250.39 587.22,236.50 590.23,238.55 592.73,242.29 595.24,236.21 597.75,237.44 601.51,228.55 605.27,222.55 609.03,211.18 612.79,194.40 616.55,175.85 619.81,159.50 622.82,162.97 625.33,154.90 628.34,166.64 630.85,171.29 634.11,161.10 637.12,170.04 639.62,165.66 642.88,186.72 646.64,186.15 650.41,190.19 653.42,217.78 655.92,237.00 659.18,254.42 662.94,251.12 665.45,254.33 669.21,259.20 675.50,259.20 675.50,259.20 669.21,259.20 665.45,259.20 662.94,259.20 659.18,259.20 655.92,248.62 653.42,237.75 650.41,215.19 646.64,216.72 642.88,211.13 639.62,194.58 637.12,200.23 634.11,191.62 630.85,203.99 628.34,196.11 625.33,192.80 622.82,197.27 619.81,190.71 616.55,206.96 612.79,221.00 609.03,229.30 605.27,237.99 601.51,244.53 597.75,248.18 595.24,246.90 592.73,253.36 590.23,249.57 587.22,249.11 582.70,257.79 578.94,257.25 575.18,257.36 571.42,256.67 568.41,259.20 566.40,259.20 563.14,255.19 560.14,258.33 556.37,259.20 552.61,259.20 538.30,259.20" fill="#DCC9E6" />
<polyline points="560.14,254.09 563.14,250.33 566.40,256.60 568.41,258.36 571.42,252.84 575.18,252.84 578.94,252.84 582.70,254.09 587.22,242.81 590.23,244.06 592.73,247.82 595.24,241.55 597.75,242.81 601.51,236.54 605.27,230.27 609.03,220.24 612.79,207.70 616.55,191.40 619.81,175.11 622.82,180.12 625.33,173.85 628.34,181.37 630.85,187.64 634.11,176.36 637.12,185.14 639.62,180.12 642.88,198.93 646.64,201.43 650.41,202.69 653.42,227.76 655.92,242.81 659.18,257.85 662.94,255.35" fill="none" stroke="#DCC9E6" stroke-width="7.0" stroke-linejoin="round" stroke-linecap="round"/>
<line x1="538.30" y1="259.20" x2="675.50" y2="259.20" stroke="#3A973D" stroke-width="1.3"/>
<polyline points="538.30,259.20 552.61,259.20 556.37,256.60 560.14,254.09 563.14,250.33 566.40,256.60 568.41,258.36 571.42,252.84 575.18,252.84 578.94,252.84 582.70,254.09 587.22,242.81 590.23,244.06 592.73,247.82 595.24,241.55 597.75,242.81 601.51,236.54 605.27,230.27 609.03,220.24 612.79,207.70 616.55,191.40 619.81,175.11 622.82,180.12 625.33,173.85 628.34,181.37 630.85,187.64 634.11,176.36 637.12,185.14 639.62,180.12 642.88,198.93 646.64,201.43 650.41,202.69 653.42,227.76 655.92,242.81 659.18,257.85 662.94,255.35 665.45,257.85 669.21,259.20 675.50,259.20" fill="none" stroke="#761F8C" stroke-width="1.35" stroke-linejoin="round" />
<polyline points="538.30,259.20 614.31,259.20 615.13,259.20 615.96,259.20 616.78,259.20 617.60,259.20 618.42,259.19 619.25,259.10 620.07,258.64 620.89,256.77 621.72,251.07 622.54,238.01 623.36,216.16 624.19,191.14 625.01,175.37 625.28,174.20 625.83,176.39 626.66,187.00 627.48,203.24 628.30,220.63 629.13,235.57 629.95,246.32 630.77,252.96 631.60,256.51 632.42,258.17 633.24,258.85 634.07,259.09 634.89,259.17 635.71,259.19 675.50,259.20" fill="none" stroke="#3A973D" stroke-width="1.2" stroke-linejoin="round" />
<path d="M538.30,259.70 V149.3 H675.50 V259.70" fill="none" stroke="#1e1e1e" stroke-width="1.0"/>
<line x1="536.70" y1="259.20" x2="538.30" y2="259.20" stroke="#1e1e1e" stroke-width="0.9"/>
<text x="535.70" y="263.50" font-size="12" fill="#000" text-anchor="end" textLength="15.00" lengthAdjust="spacingAndGlyphs" >0.0</text>
<line x1="536.70" y1="242.20" x2="538.30" y2="242.20" stroke="#1e1e1e" stroke-width="0.9"/>
<text x="535.70" y="246.50" font-size="12" fill="#000" text-anchor="end" textLength="15.00" lengthAdjust="spacingAndGlyphs" >0.2</text>
<line x1="536.70" y1="225.20" x2="538.30" y2="225.20" stroke="#1e1e1e" stroke-width="0.9"/>
<text x="535.70" y="229.50" font-size="12" fill="#000" text-anchor="end" textLength="15.00" lengthAdjust="spacingAndGlyphs" >0.4</text>
<line x1="536.70" y1="208.20" x2="538.30" y2="208.20" stroke="#1e1e1e" stroke-width="0.9"/>
<text x="535.70" y="212.50" font-size="12" fill="#000" text-anchor="end" textLength="15.00" lengthAdjust="spacingAndGlyphs" >0.6</text>
<line x1="536.70" y1="191.20" x2="538.30" y2="191.20" stroke="#1e1e1e" stroke-width="0.9"/>
<text x="535.70" y="195.50" font-size="12" fill="#000" text-anchor="end" textLength="15.00" lengthAdjust="spacingAndGlyphs" >0.8</text>
<line x1="536.70" y1="174.20" x2="538.30" y2="174.20" stroke="#1e1e1e" stroke-width="0.9"/>
<text x="535.70" y="178.50" font-size="12" fill="#000" text-anchor="end" textLength="15.00" lengthAdjust="spacingAndGlyphs" >1.0</text>
<line x1="536.70" y1="157.20" x2="538.30" y2="157.20" stroke="#1e1e1e" stroke-width="0.9"/>
<text x="535.70" y="161.50" font-size="12" fill="#000" text-anchor="end" textLength="15.00" lengthAdjust="spacingAndGlyphs" >1.2</text>
<line x1="538.30" y1="259.20" x2="538.30" y2="261.00" stroke="#1e1e1e" stroke-width="0.9"/>
<text x="536.00" y="271.50" font-size="12" fill="#000" text-anchor="middle" >0</text>
<line x1="565.74" y1="259.20" x2="565.74" y2="261.00" stroke="#1e1e1e" stroke-width="0.9"/>
<text x="565.74" y="271.50" font-size="12" fill="#000" text-anchor="middle" textLength="15.00" lengthAdjust="spacingAndGlyphs" >0.2</text>
<line x1="593.18" y1="259.20" x2="593.18" y2="261.00" stroke="#1e1e1e" stroke-width="0.9"/>
<text x="593.18" y="271.50" font-size="12" fill="#000" text-anchor="middle" textLength="15.00" lengthAdjust="spacingAndGlyphs" >0.4</text>
<line x1="620.62" y1="259.20" x2="620.62" y2="261.00" stroke="#1e1e1e" stroke-width="0.9"/>
<text x="620.62" y="271.50" font-size="12" fill="#000" text-anchor="middle" textLength="15.00" lengthAdjust="spacingAndGlyphs" >0.6</text>
<line x1="648.06" y1="259.20" x2="648.06" y2="261.00" stroke="#1e1e1e" stroke-width="0.9"/>
<text x="648.06" y="271.50" font-size="12" fill="#000" text-anchor="middle" textLength="15.00" lengthAdjust="spacingAndGlyphs" >0.8</text>
<line x1="675.50" y1="259.20" x2="675.50" y2="261.00" stroke="#1e1e1e" stroke-width="0.9"/>
<text x="675.50" y="271.50" font-size="12" fill="#000" text-anchor="middle" textLength="15.00" lengthAdjust="spacingAndGlyphs" >1.0</text>
<text x="610.50" y="281.50" font-size="12" fill="#000" text-anchor="middle" textLength="75.50" lengthAdjust="spacingAndGlyphs" >Burst-wise PR</text>
<text x="542.90" y="164.70" font-size="12" fill="#000" textLength="48.60" lengthAdjust="spacingAndGlyphs" >N = 1271</text>
<text x="670.70" y="164.80" font-size="15.5" fill="#000" text-anchor="end" textLength="33.40" lengthAdjust="spacingAndGlyphs" >ADN</text>
<text transform="translate(10.4,206.7) rotate(-90)" font-size="12" text-anchor="middle" textLength="98.0" lengthAdjust="spacingAndGlyphs">Bursts, normalized</text>
<text x="4.00" y="298.50" font-size="16" fill="#000" font-weight="bold" textLength="161.00" lengthAdjust="spacingAndGlyphs" >(c) Variance analysis:</text>
<text x="169.20" y="298.40" font-size="15.8" fill="#761F8C" textLength="10.20" lengthAdjust="spacingAndGlyphs" >A</text>
<text x="179.20" y="303.70" font-size="8.0" fill="#761F8C" textLength="11.50" lengthAdjust="spacingAndGlyphs" >2A</text>
<text x="190.20" y="298.40" font-size="15.8" fill="#761F8C" textLength="23.30" lengthAdjust="spacingAndGlyphs" >AR</text>
<text x="218.40" y="298.40" font-size="15.8" fill="#000" >,</text>
<text x="226.70" y="298.40" font-size="15.8" fill="#E9A12F" textLength="137.00" lengthAdjust="spacingAndGlyphs" >static heterogeneity</text>
<polygon points="61.54,389.62 66.92,378.08 69.81,382.06 72.50,385.77 75.00,384.11 77.88,382.21 80.77,380.30 83.65,378.39 86.15,377.50 88.46,379.04 91.35,380.96 94.23,382.88 97.12,383.10 99.62,383.28 101.92,383.45 104.81,383.66 107.31,383.85 110.00,385.87 112.50,387.74 115.00,389.62 117.31,388.46 120.19,387.02 122.69,385.77 125.38,383.53 128.46,380.96 130.77,379.04 133.65,374.71 136.54,370.38 139.42,374.51 142.31,378.08 142.31,393.46 139.42,393.02 136.54,392.50 133.65,394.90 130.77,397.31 128.46,398.68 125.38,400.51 122.69,402.12 120.19,403.05 117.31,404.13 115.00,405.00 112.50,403.75 110.00,402.50 107.31,401.15 104.81,401.52 101.92,401.95 99.62,402.29 97.12,402.65 94.23,403.08 91.35,401.15 88.46,399.23 86.15,397.69 83.65,398.72 80.77,400.84 77.88,402.96 75.00,405.08 72.50,406.92 69.81,405.07 66.92,403.08 61.54,411.73" fill="#F9F2DA" />
<polygon points="61.54,360.77 66.92,313.65 69.81,328.08 72.50,368.46 75.00,360.77 76.92,359.23 79.81,356.92 82.69,353.27 85.58,349.62 88.46,362.69 91.35,365.58 94.23,368.46 97.12,369.42 99.62,370.26 101.92,371.03 104.81,371.99 107.31,374.76 110.00,379.04 112.50,379.93 115.00,380.82 117.31,379.42 120.19,377.12 122.69,360.77 125.38,368.46 128.46,354.73 130.77,344.42 133.65,362.69 136.54,339.62 139.42,338.07 142.31,336.73 142.31,378.08 139.42,373.61 136.54,368.46 133.65,381.92 130.77,383.85 128.46,385.49 125.38,387.69 122.69,385.77 120.19,389.62 117.31,391.92 115.00,393.32 112.50,392.43 110.00,391.54 107.31,386.64 104.81,383.85 101.92,383.85 99.62,383.72 97.12,382.88 94.23,381.92 91.35,380.00 88.46,378.08 85.58,369.42 82.69,374.23 79.81,379.04 76.92,383.21 75.00,386.00 72.50,389.62 69.81,370.38 66.92,362.69 61.54,389.62" fill="#761F8C" fill-opacity="0.24"/>
<polyline points="61.54,404.04 66.92,391.15 69.81,391.54 72.50,399.23 75.00,395.38 77.88,392.50 80.77,390.58 83.65,388.08 86.15,387.31 88.46,390.58 91.35,392.50 94.23,393.85 97.12,395.38 99.62,393.08 101.92,393.85 104.81,393.08 107.31,393.46 110.00,397.69 112.50,398.65 115.00,398.85 117.31,398.08 120.19,396.35 122.69,394.42 125.38,391.54 128.46,388.65 130.77,388.08 133.65,387.31 136.54,382.31 139.42,382.88 142.31,383.46" fill="none" stroke="#E9A12F" stroke-width="1.35" stroke-linejoin="round" />
<circle cx="61.54" cy="404.04" r="1.25" fill="#E9A12F"/>
<circle cx="66.92" cy="391.15" r="1.25" fill="#E9A12F"/>
<circle cx="69.81" cy="391.54" r="1.25" fill="#E9A12F"/>
<circle cx="72.50" cy="399.23" r="1.25" fill="#E9A12F"/>
<circle cx="75.00" cy="395.38" r="1.25" fill="#E9A12F"/>
<circle cx="77.88" cy="392.50" r="1.25" fill="#E9A12F"/>
<circle cx="80.77" cy="390.58" r="1.25" fill="#E9A12F"/>
<circle cx="83.65" cy="388.08" r="1.25" fill="#E9A12F"/>
<circle cx="86.15" cy="387.31" r="1.25" fill="#E9A12F"/>
<circle cx="88.46" cy="390.58" r="1.25" fill="#E9A12F"/>
<circle cx="91.35" cy="392.50" r="1.25" fill="#E9A12F"/>
<circle cx="94.23" cy="393.85" r="1.25" fill="#E9A12F"/>
<circle cx="97.12" cy="395.38" r="1.25" fill="#E9A12F"/>
<circle cx="99.62" cy="393.08" r="1.25" fill="#E9A12F"/>
<circle cx="101.92" cy="393.85" r="1.25" fill="#E9A12F"/>
<circle cx="104.81" cy="393.08" r="1.25" fill="#E9A12F"/>
<circle cx="107.31" cy="393.46" r="1.25" fill="#E9A12F"/>
<circle cx="110.00" cy="397.69" r="1.25" fill="#E9A12F"/>
<circle cx="112.50" cy="398.65" r="1.25" fill="#E9A12F"/>
<circle cx="115.00" cy="398.85" r="1.25" fill="#E9A12F"/>
<circle cx="117.31" cy="398.08" r="1.25" fill="#E9A12F"/>
<circle cx="120.19" cy="396.35" r="1.25" fill="#E9A12F"/>
<circle cx="122.69" cy="394.42" r="1.25" fill="#E9A12F"/>
<circle cx="125.38" cy="391.54" r="1.25" fill="#E9A12F"/>
<circle cx="128.46" cy="388.65" r="1.25" fill="#E9A12F"/>
<circle cx="130.77" cy="388.08" r="1.25" fill="#E9A12F"/>
<circle cx="133.65" cy="387.31" r="1.25" fill="#E9A12F"/>
<circle cx="136.54" cy="382.31" r="1.25" fill="#E9A12F"/>
<circle cx="139.42" cy="382.88" r="1.25" fill="#E9A12F"/>
<circle cx="142.31" cy="383.46" r="1.25" fill="#E9A12F"/>
<polyline points="61.54,375.77 66.92,343.08 69.81,353.46 72.50,381.92 75.00,373.27 76.92,368.46 79.81,368.08 82.69,362.69 85.58,359.23 88.46,371.35 91.35,372.69 94.23,375.77 97.12,379.04 99.62,377.69 101.92,377.69 104.81,377.69 107.31,378.08 110.00,385.77 112.50,385.77 115.00,387.69 117.31,388.08 120.19,383.85 122.69,374.23 125.38,378.08 128.46,374.23 130.77,364.62 133.65,371.92 136.54,354.04 139.42,357.88 142.31,361.15" fill="none" stroke="#761F8C" stroke-width="1.5" stroke-linejoin="round" />
<polygon points="59.39,374.05 63.69,374.05 61.54,377.81" fill="#761F8C"/>
<polygon points="64.77,341.36 69.07,341.36 66.92,345.12" fill="#761F8C"/>
<polygon points="67.66,351.74 71.96,351.74 69.81,355.50" fill="#761F8C"/>
<polygon points="70.35,380.20 74.65,380.20 72.50,383.97" fill="#761F8C"/>
<polygon points="72.85,371.55 77.15,371.55 75.00,375.31" fill="#761F8C"/>
<polygon points="74.77,366.74 79.07,366.74 76.92,370.50" fill="#761F8C"/>
<polygon points="77.66,366.36 81.96,366.36 79.81,370.12" fill="#761F8C"/>
<polygon points="80.54,360.97 84.84,360.97 82.69,364.73" fill="#761F8C"/>
<polygon points="83.43,357.51 87.73,357.51 85.58,361.27" fill="#761F8C"/>
<polygon points="86.31,369.63 90.61,369.63 88.46,373.39" fill="#761F8C"/>
<polygon points="89.20,370.97 93.50,370.97 91.35,374.73" fill="#761F8C"/>
<polygon points="92.08,374.05 96.38,374.05 94.23,377.81" fill="#761F8C"/>
<polygon points="94.97,377.32 99.27,377.32 97.12,381.08" fill="#761F8C"/>
<polygon points="97.47,375.97 101.77,375.97 99.62,379.73" fill="#761F8C"/>
<polygon points="99.77,375.97 104.07,375.97 101.92,379.73" fill="#761F8C"/>
<polygon points="102.66,375.97 106.96,375.97 104.81,379.73" fill="#761F8C"/>
<polygon points="105.16,376.36 109.46,376.36 107.31,380.12" fill="#761F8C"/>
<polygon points="107.85,384.05 112.15,384.05 110.00,387.81" fill="#761F8C"/>
<polygon points="110.35,384.05 114.65,384.05 112.50,387.81" fill="#761F8C"/>
<polygon points="112.85,385.97 117.15,385.97 115.00,389.73" fill="#761F8C"/>
<polygon points="115.16,386.36 119.46,386.36 117.31,390.12" fill="#761F8C"/>
<polygon points="118.04,382.13 122.34,382.13 120.19,385.89" fill="#761F8C"/>
<polygon points="120.54,372.51 124.84,372.51 122.69,376.27" fill="#761F8C"/>
<polygon points="123.23,376.36 127.53,376.36 125.38,380.12" fill="#761F8C"/>
<polygon points="126.31,372.51 130.61,372.51 128.46,376.27" fill="#761F8C"/>
<polygon points="128.62,362.90 132.92,362.90 130.77,366.66" fill="#761F8C"/>
<polygon points="131.50,370.20 135.80,370.20 133.65,373.97" fill="#761F8C"/>
<polygon points="134.39,352.32 138.69,352.32 136.54,356.08" fill="#761F8C"/>
<polygon points="137.27,356.16 141.57,356.16 139.42,359.93" fill="#761F8C"/>
<polygon points="140.16,359.43 144.46,359.43 142.31,363.20" fill="#761F8C"/>
<rect x="35.00" y="307.4" width="133.40" height="110.60" fill="none" stroke="#1e1e1e" stroke-width="1.0"/>
<line x1="33.40" y1="418.00" x2="35.00" y2="418.00" stroke="#1e1e1e" stroke-width="0.9"/>
<text x="30.80" y="421.00" font-size="12" fill="#000" text-anchor="end" textLength="15.00" lengthAdjust="spacingAndGlyphs" >0.2</text>
<line x1="33.40" y1="394.15" x2="35.00" y2="394.15" stroke="#1e1e1e" stroke-width="0.9"/>
<text x="30.80" y="397.15" font-size="12" fill="#000" text-anchor="end" textLength="15.00" lengthAdjust="spacingAndGlyphs" >0.4</text>
<line x1="33.40" y1="370.30" x2="35.00" y2="370.30" stroke="#1e1e1e" stroke-width="0.9"/>
<text x="30.80" y="373.30" font-size="12" fill="#000" text-anchor="end" textLength="15.00" lengthAdjust="spacingAndGlyphs" >0.6</text>
<line x1="33.40" y1="346.45" x2="35.00" y2="346.45" stroke="#1e1e1e" stroke-width="0.9"/>
<text x="30.80" y="349.45" font-size="12" fill="#000" text-anchor="end" textLength="15.00" lengthAdjust="spacingAndGlyphs" >0.8</text>
<line x1="33.40" y1="322.60" x2="35.00" y2="322.60" stroke="#1e1e1e" stroke-width="0.9"/>
<text x="30.80" y="325.60" font-size="12" fill="#000" text-anchor="end" textLength="15.00" lengthAdjust="spacingAndGlyphs" >1.0</text>
<line x1="35.40" y1="418.00" x2="35.40" y2="419.80" stroke="#1e1e1e" stroke-width="0.9"/>
<text x="35.40" y="429.80" font-size="12" fill="#000" text-anchor="middle" textLength="15.00" lengthAdjust="spacingAndGlyphs" >0.0</text>
<line x1="61.90" y1="418.00" x2="61.90" y2="419.80" stroke="#1e1e1e" stroke-width="0.9"/>
<text x="61.90" y="429.80" font-size="12" fill="#000" text-anchor="middle" textLength="15.00" lengthAdjust="spacingAndGlyphs" >0.2</text>
<line x1="88.40" y1="418.00" x2="88.40" y2="419.80" stroke="#1e1e1e" stroke-width="0.9"/>
<text x="88.40" y="429.80" font-size="12" fill="#000" text-anchor="middle" textLength="15.00" lengthAdjust="spacingAndGlyphs" >0.4</text>
<line x1="114.90" y1="418.00" x2="114.90" y2="419.80" stroke="#1e1e1e" stroke-width="0.9"/>
<text x="114.90" y="429.80" font-size="12" fill="#000" text-anchor="middle" textLength="15.00" lengthAdjust="spacingAndGlyphs" >0.6</text>
<line x1="141.40" y1="418.00" x2="141.40" y2="419.80" stroke="#1e1e1e" stroke-width="0.9"/>
<text x="141.40" y="429.80" font-size="12" fill="#000" text-anchor="middle" textLength="15.00" lengthAdjust="spacingAndGlyphs" >0.8</text>
<line x1="167.90" y1="418.00" x2="167.90" y2="419.80" stroke="#1e1e1e" stroke-width="0.9"/>
<text x="167.90" y="429.80" font-size="12" fill="#000" text-anchor="middle" textLength="15.00" lengthAdjust="spacingAndGlyphs" >1.0</text>
<text x="106.50" y="438.90" font-size="12" fill="#000" text-anchor="middle" textLength="75.50" lengthAdjust="spacingAndGlyphs" >Burst-wise PR</text>
<text x="165.40" y="322.80" font-size="16" fill="#000" text-anchor="end" textLength="32.40" lengthAdjust="spacingAndGlyphs" >APO</text>
<polygon points="253.99,370.24 256.49,374.42 259.00,378.60 261.51,382.78 264.77,382.78 267.78,382.78 270.79,385.29 274.05,388.00 277.31,389.55 280.32,390.30 283.32,391.05 286.58,391.35 289.84,390.80 292.85,390.30 295.86,390.30 299.12,390.30 302.38,390.30 302.38,409.17 299.12,409.58 295.86,409.98 292.85,410.36 289.84,411.36 286.58,412.45 283.32,412.37 280.32,411.61 277.31,410.86 274.05,409.94 270.79,408.86 267.78,407.85 264.77,410.26 261.51,412.87 259.00,408.69 256.49,404.51 253.99,400.33" fill="#F9F2DA" />
<polygon points="253.99,313.82 256.49,325.11 259.00,336.39 261.51,340.15 264.02,344.54 267.28,349.08 269.78,349.58 272.79,350.18 275.30,357.70 278.31,365.73 280.82,368.23 283.32,370.74 285.83,372.58 288.34,371.75 290.85,370.91 293.36,369.74 296.61,366.48 299.62,363.47 302.88,362.72 302.88,392.81 299.62,391.68 296.61,392.18 293.36,392.72 290.85,393.14 288.34,393.56 285.83,393.98 283.32,393.81 280.82,393.50 278.31,393.18 275.30,392.81 272.79,390.66 269.78,388.08 267.28,385.93 264.02,387.17 261.51,389.05 259.00,375.26 256.49,372.75 253.99,370.24" fill="#761F8C" fill-opacity="0.24"/>
<polyline points="253.99,385.29 256.49,388.29 259.00,391.55 261.51,399.08 264.77,396.57 267.78,393.31 270.79,397.32 274.05,401.58 277.31,403.34 280.32,401.58 283.32,404.09 286.58,404.84 289.84,402.84 292.85,401.58 295.86,399.08 299.12,399.83 302.38,397.82" fill="none" stroke="#E9A12F" stroke-width="1.35" stroke-linejoin="round" />
<circle cx="253.99" cy="385.29" r="1.25" fill="#E9A12F"/>
<circle cx="256.49" cy="388.29" r="1.25" fill="#E9A12F"/>
<circle cx="259.00" cy="391.55" r="1.25" fill="#E9A12F"/>
<circle cx="261.51" cy="399.08" r="1.25" fill="#E9A12F"/>
<circle cx="264.77" cy="396.57" r="1.25" fill="#E9A12F"/>
<circle cx="267.78" cy="393.31" r="1.25" fill="#E9A12F"/>
<circle cx="270.79" cy="397.32" r="1.25" fill="#E9A12F"/>
<circle cx="274.05" cy="401.58" r="1.25" fill="#E9A12F"/>
<circle cx="277.31" cy="403.34" r="1.25" fill="#E9A12F"/>
<circle cx="280.32" cy="401.58" r="1.25" fill="#E9A12F"/>
<circle cx="283.32" cy="404.09" r="1.25" fill="#E9A12F"/>
<circle cx="286.58" cy="404.84" r="1.25" fill="#E9A12F"/>
<circle cx="289.84" cy="402.84" r="1.25" fill="#E9A12F"/>
<circle cx="292.85" cy="401.58" r="1.25" fill="#E9A12F"/>
<circle cx="295.86" cy="399.08" r="1.25" fill="#E9A12F"/>
<circle cx="299.12" cy="399.83" r="1.25" fill="#E9A12F"/>
<circle cx="302.38" cy="397.82" r="1.25" fill="#E9A12F"/>
<polyline points="253.99,335.14 256.49,353.94 259.00,355.70 261.51,381.52 264.02,361.46 267.28,363.97 269.78,370.24 272.79,363.22 275.30,384.03 278.31,380.77 280.82,381.52 283.32,386.54 285.83,386.04 288.34,388.29 290.85,382.78 293.36,379.52 296.61,384.78 299.62,380.77 302.88,376.51" fill="none" stroke="#761F8C" stroke-width="1.5" stroke-linejoin="round" />
<polygon points="251.84,333.42 256.14,333.42 253.99,337.18" fill="#761F8C"/>
<polygon points="254.34,352.22 258.64,352.22 256.49,355.98" fill="#761F8C"/>
<polygon points="256.85,353.98 261.15,353.98 259.00,357.74" fill="#761F8C"/>
<polygon points="259.36,379.80 263.66,379.80 261.51,383.57" fill="#761F8C"/>
<polygon points="261.87,359.74 266.17,359.74 264.02,363.51" fill="#761F8C"/>
<polygon points="265.13,362.25 269.43,362.25 267.28,366.01" fill="#761F8C"/>
<polygon points="267.63,368.52 271.93,368.52 269.78,372.28" fill="#761F8C"/>
<polygon points="270.64,361.50 274.94,361.50 272.79,365.26" fill="#761F8C"/>
<polygon points="273.15,382.31 277.45,382.31 275.30,386.07" fill="#761F8C"/>
<polygon points="276.16,379.05 280.46,379.05 278.31,382.81" fill="#761F8C"/>
<polygon points="278.67,379.80 282.97,379.80 280.82,383.57" fill="#761F8C"/>
<polygon points="281.17,384.82 285.47,384.82 283.32,388.58" fill="#761F8C"/>
<polygon points="283.68,384.32 287.98,384.32 285.83,388.08" fill="#761F8C"/>
<polygon points="286.19,386.57 290.49,386.57 288.34,390.34" fill="#761F8C"/>
<polygon points="288.70,381.06 293.00,381.06 290.85,384.82" fill="#761F8C"/>
<polygon points="291.21,377.80 295.51,377.80 293.36,381.56" fill="#761F8C"/>
<polygon points="294.46,383.06 298.76,383.06 296.61,386.83" fill="#761F8C"/>
<polygon points="297.47,379.05 301.77,379.05 299.62,382.81" fill="#761F8C"/>
<polygon points="300.73,374.79 305.03,374.79 302.88,378.55" fill="#761F8C"/>
<rect x="203.30" y="307.4" width="133.40" height="110.60" fill="none" stroke="#1e1e1e" stroke-width="1.0"/>
<line x1="201.70" y1="404.60" x2="203.30" y2="404.60" stroke="#1e1e1e" stroke-width="0.9"/>
<text x="199.10" y="407.60" font-size="12" fill="#000" text-anchor="end" textLength="15.00" lengthAdjust="spacingAndGlyphs" >0.3</text>
<line x1="201.70" y1="364.00" x2="203.30" y2="364.00" stroke="#1e1e1e" stroke-width="0.9"/>
<text x="199.10" y="367.00" font-size="12" fill="#000" text-anchor="end" textLength="15.00" lengthAdjust="spacingAndGlyphs" >0.5</text>
<line x1="201.70" y1="323.40" x2="203.30" y2="323.40" stroke="#1e1e1e" stroke-width="0.9"/>
<text x="199.10" y="326.40" font-size="12" fill="#000" text-anchor="end" textLength="15.00" lengthAdjust="spacingAndGlyphs" >0.7</text>
<line x1="202.00" y1="384.30" x2="203.30" y2="384.30" stroke="#1e1e1e" stroke-width="0.8"/>
<line x1="202.00" y1="343.70" x2="203.30" y2="343.70" stroke="#1e1e1e" stroke-width="0.8"/>
<line x1="203.70" y1="418.00" x2="203.70" y2="419.80" stroke="#1e1e1e" stroke-width="0.9"/>
<text x="203.70" y="429.80" font-size="12" fill="#000" text-anchor="middle" textLength="15.00" lengthAdjust="spacingAndGlyphs" >0.0</text>
<line x1="230.20" y1="418.00" x2="230.20" y2="419.80" stroke="#1e1e1e" stroke-width="0.9"/>
<text x="230.20" y="429.80" font-size="12" fill="#000" text-anchor="middle" textLength="15.00" lengthAdjust="spacingAndGlyphs" >0.2</text>
<line x1="256.70" y1="418.00" x2="256.70" y2="419.80" stroke="#1e1e1e" stroke-width="0.9"/>
<text x="256.70" y="429.80" font-size="12" fill="#000" text-anchor="middle" textLength="15.00" lengthAdjust="spacingAndGlyphs" >0.4</text>
<line x1="283.20" y1="418.00" x2="283.20" y2="419.80" stroke="#1e1e1e" stroke-width="0.9"/>
<text x="283.20" y="429.80" font-size="12" fill="#000" text-anchor="middle" textLength="15.00" lengthAdjust="spacingAndGlyphs" >0.6</text>
<line x1="309.70" y1="418.00" x2="309.70" y2="419.80" stroke="#1e1e1e" stroke-width="0.9"/>
<text x="309.70" y="429.80" font-size="12" fill="#000" text-anchor="middle" textLength="15.00" lengthAdjust="spacingAndGlyphs" >0.8</text>
<line x1="336.20" y1="418.00" x2="336.20" y2="419.80" stroke="#1e1e1e" stroke-width="0.9"/>
<text x="336.20" y="429.80" font-size="12" fill="#000" text-anchor="middle" textLength="15.00" lengthAdjust="spacingAndGlyphs" >1.0</text>
<text x="274.80" y="438.90" font-size="12" fill="#000" text-anchor="middle" textLength="75.50" lengthAdjust="spacingAndGlyphs" >Burst-wise PR</text>
<text x="334.50" y="320.80" font-size="16" fill="#000" text-anchor="end" textLength="23.60" lengthAdjust="spacingAndGlyphs" >ZM</text>
<polygon points="435.77,367.73 438.28,368.32 441.54,369.07 444.05,369.66 446.55,370.24 449.06,371.67 452.32,373.54 455.33,375.26 457.84,377.45 460.35,379.64 462.85,381.84 465.36,384.03 467.87,385.60 470.38,387.17 473.39,389.05 475.89,389.70 479.15,385.79 481.66,382.78 484.17,385.82 486.68,388.86 489.93,392.81 489.93,410.36 486.68,406.41 484.17,403.37 481.66,400.33 479.15,403.34 475.89,407.25 473.39,407.35 470.38,406.60 467.87,405.97 465.36,405.35 462.85,403.47 460.35,401.58 457.84,399.70 455.33,397.82 452.32,396.96 449.06,396.03 446.55,395.32 444.05,395.90 441.54,396.48 438.28,397.24 435.77,397.82" fill="#F9F2DA" />
<polygon points="435.77,312.57 438.28,345.17 441.54,342.66 444.05,338.90 446.55,335.14 449.06,341.15 452.32,348.98 455.33,351.85 457.84,353.52 460.35,355.20 462.85,358.54 465.36,361.88 467.87,365.23 470.38,366.79 473.39,368.67 475.89,370.24 479.15,354.65 481.66,342.66 484.17,356.45 486.68,370.24 489.93,370.24 489.93,390.30 486.68,395.32 484.17,390.30 481.66,385.29 479.15,390.30 475.89,389.37 473.39,388.65 470.38,387.79 467.87,386.96 465.36,386.12 462.85,385.29 460.35,381.94 457.84,378.60 455.33,375.26 452.32,373.54 449.06,371.67 446.55,370.24 444.05,371.00 441.54,371.76 438.28,372.75 435.77,367.73" fill="#761F8C" fill-opacity="0.24"/>
<polyline points="435.77,384.03 438.28,390.30 441.54,386.54 444.05,384.03 446.55,379.02 449.06,384.78 452.32,387.29 455.33,386.54 457.84,385.29 460.35,388.29 462.85,391.55 465.36,395.32 467.87,394.06 470.38,396.57 473.39,398.32 475.89,400.33 479.15,400.33 481.66,389.80 484.17,393.31 486.68,402.84 489.93,400.33" fill="none" stroke="#E9A12F" stroke-width="1.35" stroke-linejoin="round" />
<circle cx="435.77" cy="384.03" r="1.25" fill="#E9A12F"/>
<circle cx="438.28" cy="390.30" r="1.25" fill="#E9A12F"/>
<circle cx="441.54" cy="386.54" r="1.25" fill="#E9A12F"/>
<circle cx="444.05" cy="384.03" r="1.25" fill="#E9A12F"/>
<circle cx="446.55" cy="379.02" r="1.25" fill="#E9A12F"/>
<circle cx="449.06" cy="384.78" r="1.25" fill="#E9A12F"/>
<circle cx="452.32" cy="387.29" r="1.25" fill="#E9A12F"/>
<circle cx="455.33" cy="386.54" r="1.25" fill="#E9A12F"/>
<circle cx="457.84" cy="385.29" r="1.25" fill="#E9A12F"/>
<circle cx="460.35" cy="388.29" r="1.25" fill="#E9A12F"/>
<circle cx="462.85" cy="391.55" r="1.25" fill="#E9A12F"/>
<circle cx="465.36" cy="395.32" r="1.25" fill="#E9A12F"/>
<circle cx="467.87" cy="394.06" r="1.25" fill="#E9A12F"/>
<circle cx="470.38" cy="396.57" r="1.25" fill="#E9A12F"/>
<circle cx="473.39" cy="398.32" r="1.25" fill="#E9A12F"/>
<circle cx="475.89" cy="400.33" r="1.25" fill="#E9A12F"/>
<circle cx="479.15" cy="400.33" r="1.25" fill="#E9A12F"/>
<circle cx="481.66" cy="389.80" r="1.25" fill="#E9A12F"/>
<circle cx="484.17" cy="393.31" r="1.25" fill="#E9A12F"/>
<circle cx="486.68" cy="402.84" r="1.25" fill="#E9A12F"/>
<circle cx="489.93" cy="400.33" r="1.25" fill="#E9A12F"/>
<polyline points="435.77,339.65 438.28,363.22 441.54,357.70 444.05,361.46 446.55,348.93 449.06,361.46 452.32,363.97 455.33,365.73 457.84,365.23 460.35,367.73 462.85,374.00 465.36,379.02 467.87,375.26 470.38,379.02 473.39,377.76 475.89,384.78 479.15,385.29 481.66,365.23 484.17,380.27 486.68,384.03 489.93,379.02" fill="none" stroke="#761F8C" stroke-width="1.5" stroke-linejoin="round" />
<polygon points="433.62,337.93 437.92,337.93 435.77,341.69" fill="#761F8C"/>
<polygon points="436.13,361.50 440.43,361.50 438.28,365.26" fill="#761F8C"/>
<polygon points="439.39,355.98 443.69,355.98 441.54,359.75" fill="#761F8C"/>
<polygon points="441.90,359.74 446.20,359.74 444.05,363.51" fill="#761F8C"/>
<polygon points="444.40,347.21 448.70,347.21 446.55,350.97" fill="#761F8C"/>
<polygon points="446.91,359.74 451.21,359.74 449.06,363.51" fill="#761F8C"/>
<polygon points="450.17,362.25 454.47,362.25 452.32,366.01" fill="#761F8C"/>
<polygon points="453.18,364.01 457.48,364.01 455.33,367.77" fill="#761F8C"/>
<polygon points="455.69,363.51 459.99,363.51 457.84,367.27" fill="#761F8C"/>
<polygon points="458.20,366.01 462.50,366.01 460.35,369.78" fill="#761F8C"/>
<polygon points="460.70,372.28 465.00,372.28 462.85,376.04" fill="#761F8C"/>
<polygon points="463.21,377.30 467.51,377.30 465.36,381.06" fill="#761F8C"/>
<polygon points="465.72,373.54 470.02,373.54 467.87,377.30" fill="#761F8C"/>
<polygon points="468.23,377.30 472.53,377.30 470.38,381.06" fill="#761F8C"/>
<polygon points="471.24,376.04 475.54,376.04 473.39,379.81" fill="#761F8C"/>
<polygon points="473.74,383.06 478.04,383.06 475.89,386.83" fill="#761F8C"/>
<polygon points="477.00,383.57 481.30,383.57 479.15,387.33" fill="#761F8C"/>
<polygon points="479.51,363.51 483.81,363.51 481.66,367.27" fill="#761F8C"/>
<polygon points="482.02,378.55 486.32,378.55 484.17,382.31" fill="#761F8C"/>
<polygon points="484.53,382.31 488.83,382.31 486.68,386.07" fill="#761F8C"/>
<polygon points="487.78,377.30 492.08,377.30 489.93,381.06" fill="#761F8C"/>
<rect x="371.80" y="307.4" width="133.70" height="110.60" fill="none" stroke="#1e1e1e" stroke-width="1.0"/>
<line x1="370.20" y1="398.60" x2="371.80" y2="398.60" stroke="#1e1e1e" stroke-width="0.9"/>
<text x="367.60" y="401.60" font-size="12" fill="#000" text-anchor="end" textLength="15.00" lengthAdjust="spacingAndGlyphs" >0.3</text>
<line x1="370.20" y1="359.10" x2="371.80" y2="359.10" stroke="#1e1e1e" stroke-width="0.9"/>
<text x="367.60" y="362.10" font-size="12" fill="#000" text-anchor="end" textLength="15.00" lengthAdjust="spacingAndGlyphs" >0.5</text>
<line x1="370.20" y1="319.60" x2="371.80" y2="319.60" stroke="#1e1e1e" stroke-width="0.9"/>
<text x="367.60" y="322.60" font-size="12" fill="#000" text-anchor="end" textLength="15.00" lengthAdjust="spacingAndGlyphs" >0.7</text>
<line x1="370.50" y1="378.85" x2="371.80" y2="378.85" stroke="#1e1e1e" stroke-width="0.8"/>
<line x1="370.50" y1="339.35" x2="371.80" y2="339.35" stroke="#1e1e1e" stroke-width="0.8"/>
<line x1="372.20" y1="418.00" x2="372.20" y2="419.80" stroke="#1e1e1e" stroke-width="0.9"/>
<text x="372.20" y="429.80" font-size="12" fill="#000" text-anchor="middle" textLength="15.00" lengthAdjust="spacingAndGlyphs" >0.0</text>
<line x1="398.76" y1="418.00" x2="398.76" y2="419.80" stroke="#1e1e1e" stroke-width="0.9"/>
<text x="398.76" y="429.80" font-size="12" fill="#000" text-anchor="middle" textLength="15.00" lengthAdjust="spacingAndGlyphs" >0.2</text>
<line x1="425.32" y1="418.00" x2="425.32" y2="419.80" stroke="#1e1e1e" stroke-width="0.9"/>
<text x="425.32" y="429.80" font-size="12" fill="#000" text-anchor="middle" textLength="15.00" lengthAdjust="spacingAndGlyphs" >0.4</text>
<line x1="451.88" y1="418.00" x2="451.88" y2="419.80" stroke="#1e1e1e" stroke-width="0.9"/>
<text x="451.88" y="429.80" font-size="12" fill="#000" text-anchor="middle" textLength="15.00" lengthAdjust="spacingAndGlyphs" >0.6</text>
<line x1="478.44" y1="418.00" x2="478.44" y2="419.80" stroke="#1e1e1e" stroke-width="0.9"/>
<text x="478.44" y="429.80" font-size="12" fill="#000" text-anchor="middle" textLength="15.00" lengthAdjust="spacingAndGlyphs" >0.8</text>
<line x1="505.00" y1="418.00" x2="505.00" y2="419.80" stroke="#1e1e1e" stroke-width="0.9"/>
<text x="505.00" y="429.80" font-size="12" fill="#000" text-anchor="middle" textLength="15.00" lengthAdjust="spacingAndGlyphs" >1.0</text>
<text x="443.30" y="438.90" font-size="12" fill="#000" text-anchor="middle" textLength="75.50" lengthAdjust="spacingAndGlyphs" >Burst-wise PR</text>
<text x="502.20" y="322.80" font-size="16" fill="#000" text-anchor="end" textLength="44.20" lengthAdjust="spacingAndGlyphs" >NECA</text>
<polygon points="604.77,356.45 607.78,355.12 610.29,354.02 613.29,352.69 615.80,361.46 618.31,370.24 621.57,370.24 624.08,370.24 626.58,370.24 629.84,370.24 632.85,370.24 635.36,373.58 637.87,376.93 640.38,380.27 643.39,382.53 645.89,384.39 649.15,386.72 651.66,388.51 654.17,390.30 654.17,411.61 651.66,410.54 649.15,409.47 645.89,408.07 643.39,407.35 640.38,406.60 637.87,404.51 635.36,402.42 632.85,400.33 629.84,400.33 626.58,400.33 624.08,401.23 621.57,403.02 618.31,405.35 615.80,397.82 613.29,390.30 610.29,391.19 607.78,391.92 604.77,392.81" fill="#F9F2DA" />
<polygon points="604.77,322.60 607.78,319.50 610.29,316.92 613.29,313.82 615.80,340.15 618.31,339.61 621.57,338.90 624.08,344.54 626.58,350.18 629.84,341.49 632.85,343.91 635.36,347.67 637.87,352.69 640.38,357.70 643.39,361.46 645.89,364.47 649.15,367.73 651.66,370.24 654.17,372.75 654.17,390.30 651.66,395.32 649.15,391.30 645.89,386.09 643.39,384.28 640.38,382.78 637.87,380.69 635.36,378.60 632.85,376.51 629.84,377.71 626.58,379.02 624.08,374.63 621.57,370.24 618.31,371.66 615.80,372.75 613.29,350.18 610.29,353.72 607.78,356.67 604.77,360.21" fill="#761F8C" fill-opacity="0.24"/>
<polyline points="604.77,377.26 607.78,379.02 610.29,379.02 613.29,369.74 615.80,384.03 618.31,391.55 621.57,384.03 624.08,384.78 626.58,386.54 629.84,383.28 632.85,384.03 635.36,387.79 637.87,394.06 640.38,394.81 643.39,396.57 645.89,397.82 649.15,401.08 651.66,401.58 654.17,401.58" fill="none" stroke="#E9A12F" stroke-width="1.35" stroke-linejoin="round" />
<circle cx="604.77" cy="377.26" r="1.25" fill="#E9A12F"/>
<circle cx="607.78" cy="379.02" r="1.25" fill="#E9A12F"/>
<circle cx="610.29" cy="379.02" r="1.25" fill="#E9A12F"/>
<circle cx="613.29" cy="369.74" r="1.25" fill="#E9A12F"/>
<circle cx="615.80" cy="384.03" r="1.25" fill="#E9A12F"/>
<circle cx="618.31" cy="391.55" r="1.25" fill="#E9A12F"/>
<circle cx="621.57" cy="384.03" r="1.25" fill="#E9A12F"/>
<circle cx="624.08" cy="384.78" r="1.25" fill="#E9A12F"/>
<circle cx="626.58" cy="386.54" r="1.25" fill="#E9A12F"/>
<circle cx="629.84" cy="383.28" r="1.25" fill="#E9A12F"/>
<circle cx="632.85" cy="384.03" r="1.25" fill="#E9A12F"/>
<circle cx="635.36" cy="387.79" r="1.25" fill="#E9A12F"/>
<circle cx="637.87" cy="394.06" r="1.25" fill="#E9A12F"/>
<circle cx="640.38" cy="394.81" r="1.25" fill="#E9A12F"/>
<circle cx="643.39" cy="396.57" r="1.25" fill="#E9A12F"/>
<circle cx="645.89" cy="397.82" r="1.25" fill="#E9A12F"/>
<circle cx="649.15" cy="401.08" r="1.25" fill="#E9A12F"/>
<circle cx="651.66" cy="401.58" r="1.25" fill="#E9A12F"/>
<circle cx="654.17" cy="401.58" r="1.25" fill="#E9A12F"/>
<polyline points="604.77,342.16 607.78,343.91 610.29,335.14 613.29,332.63 615.80,361.46 618.31,366.48 621.57,354.69 624.08,355.20 626.58,367.73 629.84,354.69 632.85,357.70 635.36,362.72 637.87,370.24 640.38,374.00 643.39,372.75 645.89,374.00 649.15,380.27 651.66,386.54 654.17,386.54" fill="none" stroke="#761F8C" stroke-width="1.5" stroke-linejoin="round" />
<polygon points="602.62,340.44 606.92,340.44 604.77,344.20" fill="#761F8C"/>
<polygon points="605.63,342.19 609.93,342.19 607.78,345.95" fill="#761F8C"/>
<polygon points="608.14,333.42 612.44,333.42 610.29,337.18" fill="#761F8C"/>
<polygon points="611.14,330.91 615.44,330.91 613.29,334.67" fill="#761F8C"/>
<polygon points="613.65,359.74 617.95,359.74 615.80,363.51" fill="#761F8C"/>
<polygon points="616.16,364.76 620.46,364.76 618.31,368.52" fill="#761F8C"/>
<polygon points="619.42,352.97 623.72,352.97 621.57,356.74" fill="#761F8C"/>
<polygon points="621.93,353.48 626.23,353.48 624.08,357.24" fill="#761F8C"/>
<polygon points="624.43,366.01 628.73,366.01 626.58,369.78" fill="#761F8C"/>
<polygon points="627.69,352.97 631.99,352.97 629.84,356.74" fill="#761F8C"/>
<polygon points="630.70,355.98 635.00,355.98 632.85,359.75" fill="#761F8C"/>
<polygon points="633.21,361.00 637.51,361.00 635.36,364.76" fill="#761F8C"/>
<polygon points="635.72,368.52 640.02,368.52 637.87,372.28" fill="#761F8C"/>
<polygon points="638.23,372.28 642.53,372.28 640.38,376.04" fill="#761F8C"/>
<polygon points="641.24,371.03 645.54,371.03 643.39,374.79" fill="#761F8C"/>
<polygon points="643.74,372.28 648.04,372.28 645.89,376.04" fill="#761F8C"/>
<polygon points="647.00,378.55 651.30,378.55 649.15,382.31" fill="#761F8C"/>
<polygon points="649.51,384.82 653.81,384.82 651.66,388.58" fill="#761F8C"/>
<polygon points="652.02,384.82 656.32,384.82 654.17,388.58" fill="#761F8C"/>
<rect x="540.80" y="307.4" width="133.60" height="110.60" fill="none" stroke="#1e1e1e" stroke-width="1.0"/>
<line x1="539.20" y1="412.40" x2="540.80" y2="412.40" stroke="#1e1e1e" stroke-width="0.9"/>
<text x="536.60" y="415.40" font-size="12" fill="#000" text-anchor="end" textLength="15.00" lengthAdjust="spacingAndGlyphs" >0.2</text>
<line x1="539.20" y1="365.35" x2="540.80" y2="365.35" stroke="#1e1e1e" stroke-width="0.9"/>
<text x="536.60" y="368.35" font-size="12" fill="#000" text-anchor="end" textLength="15.00" lengthAdjust="spacingAndGlyphs" >0.4</text>
<line x1="539.20" y1="318.30" x2="540.80" y2="318.30" stroke="#1e1e1e" stroke-width="0.9"/>
<text x="536.60" y="321.30" font-size="12" fill="#000" text-anchor="end" textLength="15.00" lengthAdjust="spacingAndGlyphs" >0.6</text>
<line x1="539.50" y1="388.88" x2="540.80" y2="388.88" stroke="#1e1e1e" stroke-width="0.8"/>
<line x1="539.50" y1="341.82" x2="540.80" y2="341.82" stroke="#1e1e1e" stroke-width="0.8"/>
<line x1="541.20" y1="418.00" x2="541.20" y2="419.80" stroke="#1e1e1e" stroke-width="0.9"/>
<text x="541.20" y="429.80" font-size="12" fill="#000" text-anchor="middle" textLength="15.00" lengthAdjust="spacingAndGlyphs" >0.0</text>
<line x1="567.74" y1="418.00" x2="567.74" y2="419.80" stroke="#1e1e1e" stroke-width="0.9"/>
<text x="567.74" y="429.80" font-size="12" fill="#000" text-anchor="middle" textLength="15.00" lengthAdjust="spacingAndGlyphs" >0.2</text>
<line x1="594.28" y1="418.00" x2="594.28" y2="419.80" stroke="#1e1e1e" stroke-width="0.9"/>
<text x="594.28" y="429.80" font-size="12" fill="#000" text-anchor="middle" textLength="15.00" lengthAdjust="spacingAndGlyphs" >0.4</text>
<line x1="620.82" y1="418.00" x2="620.82" y2="419.80" stroke="#1e1e1e" stroke-width="0.9"/>
<text x="620.82" y="429.80" font-size="12" fill="#000" text-anchor="middle" textLength="15.00" lengthAdjust="spacingAndGlyphs" >0.6</text>
<line x1="647.36" y1="418.00" x2="647.36" y2="419.80" stroke="#1e1e1e" stroke-width="0.9"/>
<text x="647.36" y="429.80" font-size="12" fill="#000" text-anchor="middle" textLength="15.00" lengthAdjust="spacingAndGlyphs" >0.8</text>
<line x1="673.90" y1="418.00" x2="673.90" y2="419.80" stroke="#1e1e1e" stroke-width="0.9"/>
<text x="673.90" y="429.80" font-size="12" fill="#000" text-anchor="middle" textLength="15.00" lengthAdjust="spacingAndGlyphs" >1.0</text>
<text x="612.30" y="438.90" font-size="12" fill="#000" text-anchor="middle" textLength="75.50" lengthAdjust="spacingAndGlyphs" >Burst-wise PR</text>
<text x="672.70" y="322.80" font-size="16" fill="#000" text-anchor="end" textLength="33.60" lengthAdjust="spacingAndGlyphs" >ADN</text>
<text transform="translate(10.5,367.4) rotate(-90)" font-size="12" text-anchor="middle" textLength="98.4" lengthAdjust="spacingAndGlyphs">SD ( Bin-wise PR )</text>
<text x="3.40" y="457.50" font-size="16" fill="#000" font-weight="bold" textLength="232.80" lengthAdjust="spacingAndGlyphs" >(d) Correlation-based analysis:</text>
<text x="239.90" y="457.50" font-size="15.8" fill="#761F8C" textLength="10.20" lengthAdjust="spacingAndGlyphs" >A</text>
<text x="249.90" y="462.80" font-size="8.0" fill="#761F8C" textLength="11.50" lengthAdjust="spacingAndGlyphs" >2A</text>
<text x="260.90" y="457.50" font-size="15.8" fill="#761F8C" textLength="22.30" lengthAdjust="spacingAndGlyphs" >AR</text>
<text x="287.20" y="457.50" font-size="15.8" fill="#000" >,</text>
<text x="294.80" y="457.50" font-size="15.8" fill="#E9A12F" textLength="137.60" lengthAdjust="spacingAndGlyphs" >static heterogeneity</text>
<text x="437.60" y="457.50" font-size="15.8" fill="#000" >,</text>
<text x="444.90" y="457.50" font-size="15.8" fill="#3A973D" textLength="132.60" lengthAdjust="spacingAndGlyphs" >static homogeneity</text>
<polygon points="40.40,505.82 55.45,505.35 64.26,505.07 70.50,504.87 75.35,504.72 79.31,504.60 82.65,504.49 85.55,504.40 88.11,504.32 90.40,504.25 105.45,503.77 114.26,503.14 120.50,502.07 125.35,501.24 129.31,500.57 132.65,500.00 135.55,499.50 138.11,499.06 140.40,498.42 155.45,490.69 164.26,486.16 164.26,510.03 155.45,511.54 140.40,514.12 138.11,514.32 135.55,514.45 132.65,514.60 129.31,514.77 125.35,514.96 120.50,515.21 114.26,515.52 105.45,515.65 90.40,515.65 88.11,515.65 85.55,515.65 82.65,515.65 79.31,515.65 75.35,515.65 70.50,515.65 64.26,515.65 55.45,515.65 40.40,515.65" fill="#F9F2DA" />
<polygon points="40.40,512.84 55.45,514.79 64.26,515.93 70.50,516.74 75.35,517.37 79.31,517.88 82.65,518.32 85.55,518.58 88.11,518.75 90.40,518.90 105.45,519.91 114.26,520.50 120.50,520.92 125.35,521.24 129.31,520.72 132.65,520.21 135.55,519.78 138.11,519.39 140.40,519.05 155.45,516.81 164.26,515.65 164.26,529.69 155.45,533.18 140.40,532.84 138.11,532.66 135.55,532.45 132.65,532.22 129.31,531.95 125.35,531.61 120.50,530.90 114.26,529.97 105.45,528.68 90.40,526.46 88.11,526.12 85.55,525.75 82.65,525.28 79.31,524.68 75.35,523.96 70.50,523.08 64.26,521.94 55.45,520.35 40.40,517.62" fill="#761F8C" fill-opacity="0.24"/>
<polygon points="40.40,567.70 55.45,567.43 64.26,567.28 70.50,567.17 75.35,567.08 79.31,567.01 82.65,566.95 85.55,566.90 88.11,566.85 90.40,566.81 105.45,566.54 114.26,566.39 120.50,566.28 125.35,566.19 129.31,566.12 132.65,566.06 135.55,566.01 138.11,565.96 140.40,565.92 155.45,565.66 164.26,565.50 164.26,571.30 155.45,571.14 140.40,570.88 138.11,570.84 135.55,570.79 132.65,570.74 129.31,570.68 125.35,570.61 120.50,570.52 114.26,570.41 105.45,570.26 90.40,569.99 88.11,569.95 85.55,569.90 82.65,569.85 79.31,569.79 75.35,569.72 70.50,569.63 64.26,569.52 55.45,569.37 40.40,569.10" fill="#D3EBD3" />
<polyline points="40.40,568.40 55.45,568.40 64.26,568.40 70.50,568.40 75.35,568.40 79.31,568.40 82.65,568.40 85.55,568.40 88.11,568.40 90.40,568.40 105.45,568.40 114.26,568.40 120.50,568.40 125.35,568.40 129.31,568.40 132.65,568.40 135.55,568.40 138.11,568.40 140.40,568.40 155.45,568.40 164.26,568.40" fill="none" stroke="#3A973D" stroke-width="1.35" stroke-linejoin="round" />
<circle cx="40.40" cy="568.40" r="1.2" fill="#3A973D"/>
<circle cx="55.45" cy="568.40" r="1.2" fill="#3A973D"/>
<circle cx="64.26" cy="568.40" r="1.2" fill="#3A973D"/>
<circle cx="70.50" cy="568.40" r="1.2" fill="#3A973D"/>
<circle cx="75.35" cy="568.40" r="1.2" fill="#3A973D"/>
<circle cx="79.31" cy="568.40" r="1.2" fill="#3A973D"/>
<circle cx="82.65" cy="568.40" r="1.2" fill="#3A973D"/>
<circle cx="85.55" cy="568.40" r="1.2" fill="#3A973D"/>
<circle cx="88.11" cy="568.40" r="1.2" fill="#3A973D"/>
<circle cx="90.40" cy="568.40" r="1.2" fill="#3A973D"/>
<circle cx="105.45" cy="568.40" r="1.2" fill="#3A973D"/>
<circle cx="114.26" cy="568.40" r="1.2" fill="#3A973D"/>
<circle cx="120.50" cy="568.40" r="1.2" fill="#3A973D"/>
<circle cx="125.35" cy="568.40" r="1.2" fill="#3A973D"/>
<circle cx="129.31" cy="568.40" r="1.2" fill="#3A973D"/>
<circle cx="132.65" cy="568.40" r="1.2" fill="#3A973D"/>
<circle cx="135.55" cy="568.40" r="1.2" fill="#3A973D"/>
<circle cx="138.11" cy="568.40" r="1.2" fill="#3A973D"/>
<circle cx="140.40" cy="568.40" r="1.2" fill="#3A973D"/>
<circle cx="155.45" cy="568.40" r="1.2" fill="#3A973D"/>
<circle cx="164.26" cy="568.40" r="1.2" fill="#3A973D"/>
<polyline points="40.40,511.44 55.45,511.32 64.26,511.25 70.50,511.20 75.35,511.16 79.31,511.13 82.65,511.10 85.55,511.08 88.11,511.06 90.40,511.04 105.45,510.93 114.26,510.57 120.50,509.81 125.35,509.23 129.31,508.46 132.65,507.79 135.55,507.21 138.11,506.69 140.40,506.12 155.45,500.71 164.26,497.40" fill="none" stroke="#E9A12F" stroke-width="1.35" stroke-linejoin="round" />
<circle cx="40.40" cy="511.44" r="1.3" fill="#E9A12F"/>
<circle cx="55.45" cy="511.32" r="1.3" fill="#E9A12F"/>
<circle cx="64.26" cy="511.25" r="1.3" fill="#E9A12F"/>
<circle cx="70.50" cy="511.20" r="1.3" fill="#E9A12F"/>
<circle cx="75.35" cy="511.16" r="1.3" fill="#E9A12F"/>
<circle cx="79.31" cy="511.13" r="1.3" fill="#E9A12F"/>
<circle cx="82.65" cy="511.10" r="1.3" fill="#E9A12F"/>
<circle cx="85.55" cy="511.08" r="1.3" fill="#E9A12F"/>
<circle cx="88.11" cy="511.06" r="1.3" fill="#E9A12F"/>
<circle cx="90.40" cy="511.04" r="1.3" fill="#E9A12F"/>
<circle cx="105.45" cy="510.93" r="1.3" fill="#E9A12F"/>
<circle cx="114.26" cy="510.57" r="1.3" fill="#E9A12F"/>
<circle cx="120.50" cy="509.81" r="1.3" fill="#E9A12F"/>
<circle cx="125.35" cy="509.23" r="1.3" fill="#E9A12F"/>
<circle cx="129.31" cy="508.46" r="1.3" fill="#E9A12F"/>
<circle cx="132.65" cy="507.79" r="1.3" fill="#E9A12F"/>
<circle cx="135.55" cy="507.21" r="1.3" fill="#E9A12F"/>
<circle cx="138.11" cy="506.69" r="1.3" fill="#E9A12F"/>
<circle cx="140.40" cy="506.12" r="1.3" fill="#E9A12F"/>
<circle cx="155.45" cy="500.71" r="1.3" fill="#E9A12F"/>
<circle cx="164.26" cy="497.40" r="1.3" fill="#E9A12F"/>
<polyline points="40.40,514.80 55.45,519.02 64.26,521.07 70.50,520.62 75.35,521.38 79.31,522.97 82.65,521.26 85.55,522.38 88.11,523.76 90.40,522.56 105.45,524.50 114.26,526.32 120.50,527.26 125.35,526.36 129.31,526.07 132.65,528.11 135.55,526.21 138.11,526.54 140.40,526.38 155.45,527.23 164.26,524.31" fill="none" stroke="#761F8C" stroke-width="1.4" stroke-linejoin="round" />
<polygon points="38.15,513.00 42.65,513.00 40.40,516.94" fill="#761F8C"/>
<polygon points="53.20,517.22 57.70,517.22 55.45,521.16" fill="#761F8C"/>
<polygon points="62.01,519.27 66.51,519.27 64.26,523.21" fill="#761F8C"/>
<polygon points="68.25,518.82 72.75,518.82 70.50,522.76" fill="#761F8C"/>
<polygon points="73.10,519.58 77.60,519.58 75.35,523.52" fill="#761F8C"/>
<polygon points="77.06,521.17 81.56,521.17 79.31,525.11" fill="#761F8C"/>
<polygon points="80.40,519.46 84.90,519.46 82.65,523.40" fill="#761F8C"/>
<polygon points="83.30,520.58 87.80,520.58 85.55,524.51" fill="#761F8C"/>
<polygon points="85.86,521.96 90.36,521.96 88.11,525.90" fill="#761F8C"/>
<polygon points="88.15,520.76 92.65,520.76 90.40,524.70" fill="#761F8C"/>
<polygon points="103.20,522.70 107.70,522.70 105.45,526.64" fill="#761F8C"/>
<polygon points="112.01,524.52 116.51,524.52 114.26,528.46" fill="#761F8C"/>
<polygon points="118.25,525.46 122.75,525.46 120.50,529.40" fill="#761F8C"/>
<polygon points="123.10,524.56 127.60,524.56 125.35,528.50" fill="#761F8C"/>
<polygon points="127.06,524.27 131.56,524.27 129.31,528.21" fill="#761F8C"/>
<polygon points="130.40,526.31 134.90,526.31 132.65,530.25" fill="#761F8C"/>
<polygon points="133.30,524.41 137.80,524.41 135.55,528.35" fill="#761F8C"/>
<polygon points="135.86,524.74 140.36,524.74 138.11,528.68" fill="#761F8C"/>
<polygon points="138.15,524.58 142.65,524.58 140.40,528.51" fill="#761F8C"/>
<polygon points="153.20,525.43 157.70,525.43 155.45,529.37" fill="#761F8C"/>
<polygon points="162.01,522.51 166.51,522.51 164.26,526.45" fill="#761F8C"/>
<rect x="35.90" y="466.0" width="134.10" height="110.30" fill="none" stroke="#1e1e1e" stroke-width="1.0"/>
<line x1="34.30" y1="568.40" x2="35.90" y2="568.40" stroke="#1e1e1e" stroke-width="0.9"/>
<text x="30.60" y="571.10" font-size="12" fill="#000" text-anchor="end" textLength="15.40" lengthAdjust="spacingAndGlyphs" >0.0</text>
<line x1="34.30" y1="527.35" x2="35.90" y2="527.35" stroke="#1e1e1e" stroke-width="0.9"/>
<text x="30.60" y="530.05" font-size="12" fill="#000" text-anchor="end" textLength="15.40" lengthAdjust="spacingAndGlyphs" >0.1</text>
<line x1="34.30" y1="486.30" x2="35.90" y2="486.30" stroke="#1e1e1e" stroke-width="0.9"/>
<text x="30.60" y="489.00" font-size="12" fill="#000" text-anchor="end" textLength="15.40" lengthAdjust="spacingAndGlyphs" >0.2</text>
<line x1="34.60" y1="547.88" x2="35.90" y2="547.88" stroke="#1e1e1e" stroke-width="0.8"/>
<line x1="34.60" y1="506.82" x2="35.90" y2="506.82" stroke="#1e1e1e" stroke-width="0.8"/>
<line x1="40.40" y1="576.30" x2="40.40" y2="578.10" stroke="#1e1e1e" stroke-width="0.9"/>
<line x1="55.45" y1="576.30" x2="55.45" y2="577.30" stroke="#1e1e1e" stroke-width="0.8"/>
<line x1="64.26" y1="576.30" x2="64.26" y2="577.30" stroke="#1e1e1e" stroke-width="0.8"/>
<line x1="70.50" y1="576.30" x2="70.50" y2="577.30" stroke="#1e1e1e" stroke-width="0.8"/>
<line x1="75.35" y1="576.30" x2="75.35" y2="577.30" stroke="#1e1e1e" stroke-width="0.8"/>
<line x1="79.31" y1="576.30" x2="79.31" y2="577.30" stroke="#1e1e1e" stroke-width="0.8"/>
<line x1="82.65" y1="576.30" x2="82.65" y2="577.30" stroke="#1e1e1e" stroke-width="0.8"/>
<line x1="85.55" y1="576.30" x2="85.55" y2="577.30" stroke="#1e1e1e" stroke-width="0.8"/>
<line x1="88.11" y1="576.30" x2="88.11" y2="577.30" stroke="#1e1e1e" stroke-width="0.8"/>
<line x1="90.40" y1="576.30" x2="90.40" y2="578.10" stroke="#1e1e1e" stroke-width="0.9"/>
<line x1="105.45" y1="576.30" x2="105.45" y2="577.30" stroke="#1e1e1e" stroke-width="0.8"/>
<line x1="114.26" y1="576.30" x2="114.26" y2="577.30" stroke="#1e1e1e" stroke-width="0.8"/>
<line x1="120.50" y1="576.30" x2="120.50" y2="577.30" stroke="#1e1e1e" stroke-width="0.8"/>
<line x1="125.35" y1="576.30" x2="125.35" y2="577.30" stroke="#1e1e1e" stroke-width="0.8"/>
<line x1="129.31" y1="576.30" x2="129.31" y2="577.30" stroke="#1e1e1e" stroke-width="0.8"/>
<line x1="132.65" y1="576.30" x2="132.65" y2="577.30" stroke="#1e1e1e" stroke-width="0.8"/>
<line x1="135.55" y1="576.30" x2="135.55" y2="577.30" stroke="#1e1e1e" stroke-width="0.8"/>
<line x1="138.11" y1="576.30" x2="138.11" y2="577.30" stroke="#1e1e1e" stroke-width="0.8"/>
<line x1="140.40" y1="576.30" x2="140.40" y2="578.10" stroke="#1e1e1e" stroke-width="0.9"/>
<line x1="155.45" y1="576.30" x2="155.45" y2="577.30" stroke="#1e1e1e" stroke-width="0.8"/>
<line x1="164.26" y1="576.30" x2="164.26" y2="577.30" stroke="#1e1e1e" stroke-width="0.8"/>
<text x="39.05" y="588.40" font-size="12" fill="#000" text-anchor="middle" >1</text>
<text x="89.85" y="588.40" font-size="12" fill="#000" text-anchor="middle" textLength="12.60" lengthAdjust="spacingAndGlyphs" >10</text>
<text x="142.05" y="588.40" font-size="12" fill="#000" text-anchor="middle" textLength="19.60" lengthAdjust="spacingAndGlyphs" >100</text>
<text x="92.30" y="594.9" font-size="12.5" font-style="italic" style="font-family:'Liberation Serif',serif">&#964;</text>
<text x="97.70" y="594.70" font-size="12" fill="#000" textLength="20.20" lengthAdjust="spacingAndGlyphs" >, ms</text>
<text x="167.10" y="480.70" font-size="16" fill="#000" text-anchor="end" textLength="33.40" lengthAdjust="spacingAndGlyphs" >APO</text>
<polygon points="208.20,498.17 223.25,498.28 232.06,498.35 238.30,498.39 243.15,498.43 247.11,498.46 250.45,498.48 253.35,498.50 255.91,498.52 258.20,498.54 273.25,498.65 282.06,498.48 288.30,497.72 293.15,497.13 297.11,496.65 300.45,496.25 303.35,495.89 305.91,495.58 308.20,494.88 323.25,489.45 332.06,486.27 332.06,509.28 323.25,508.91 308.20,508.29 305.91,508.24 303.35,508.34 300.45,508.46 297.11,508.59 293.15,508.75 288.30,508.95 282.06,509.20 273.25,509.17 258.20,508.95 255.91,508.92 253.35,508.88 250.45,508.84 247.11,508.79 243.15,508.73 238.30,508.66 232.06,508.57 223.25,508.44 208.20,508.22" fill="#F9F2DA" />
<polygon points="208.20,503.46 223.25,506.06 232.06,507.59 238.30,508.67 243.15,509.51 247.11,510.19 250.45,510.77 253.35,511.27 255.91,511.54 258.20,511.73 273.25,512.94 282.06,513.66 288.30,514.16 293.15,514.55 297.11,514.51 300.45,514.47 303.35,514.43 305.91,514.39 308.20,514.36 323.25,514.16 332.06,514.03 332.06,527.26 323.25,526.53 308.20,525.30 305.91,525.11 303.35,524.91 300.45,524.67 297.11,524.39 293.15,524.06 288.30,523.48 282.06,522.72 273.25,521.65 258.20,519.83 255.91,519.55 253.35,519.17 250.45,518.50 247.11,517.73 243.15,516.81 238.30,515.69 232.06,514.25 223.25,512.22 208.20,508.75" fill="#761F8C" fill-opacity="0.24"/>
<polygon points="208.20,567.70 223.25,567.43 232.06,567.28 238.30,567.17 243.15,567.08 247.11,567.01 250.45,566.95 253.35,566.90 255.91,566.85 258.20,566.81 273.25,566.54 282.06,566.39 288.30,566.28 293.15,566.19 297.11,566.12 300.45,566.06 303.35,566.01 305.91,565.96 308.20,565.92 323.25,565.66 332.06,565.50 332.06,571.30 323.25,571.14 308.20,570.88 305.91,570.84 303.35,570.79 300.45,570.74 297.11,570.68 293.15,570.61 288.30,570.52 282.06,570.41 273.25,570.26 258.20,569.99 255.91,569.95 253.35,569.90 250.45,569.85 247.11,569.79 243.15,569.72 238.30,569.63 232.06,569.52 223.25,569.37 208.20,569.10" fill="#D3EBD3" />
<polyline points="208.20,568.40 223.25,568.40 232.06,568.40 238.30,568.40 243.15,568.40 247.11,568.40 250.45,568.40 253.35,568.40 255.91,568.40 258.20,568.40 273.25,568.40 282.06,568.40 288.30,568.40 293.15,568.40 297.11,568.40 300.45,568.40 303.35,568.40 305.91,568.40 308.20,568.40 323.25,568.40 332.06,568.40" fill="none" stroke="#3A973D" stroke-width="1.35" stroke-linejoin="round" />
<circle cx="208.20" cy="568.40" r="1.2" fill="#3A973D"/>
<circle cx="223.25" cy="568.40" r="1.2" fill="#3A973D"/>
<circle cx="232.06" cy="568.40" r="1.2" fill="#3A973D"/>
<circle cx="238.30" cy="568.40" r="1.2" fill="#3A973D"/>
<circle cx="243.15" cy="568.40" r="1.2" fill="#3A973D"/>
<circle cx="247.11" cy="568.40" r="1.2" fill="#3A973D"/>
<circle cx="250.45" cy="568.40" r="1.2" fill="#3A973D"/>
<circle cx="253.35" cy="568.40" r="1.2" fill="#3A973D"/>
<circle cx="255.91" cy="568.40" r="1.2" fill="#3A973D"/>
<circle cx="258.20" cy="568.40" r="1.2" fill="#3A973D"/>
<circle cx="273.25" cy="568.40" r="1.2" fill="#3A973D"/>
<circle cx="282.06" cy="568.40" r="1.2" fill="#3A973D"/>
<circle cx="288.30" cy="568.40" r="1.2" fill="#3A973D"/>
<circle cx="293.15" cy="568.40" r="1.2" fill="#3A973D"/>
<circle cx="297.11" cy="568.40" r="1.2" fill="#3A973D"/>
<circle cx="300.45" cy="568.40" r="1.2" fill="#3A973D"/>
<circle cx="303.35" cy="568.40" r="1.2" fill="#3A973D"/>
<circle cx="305.91" cy="568.40" r="1.2" fill="#3A973D"/>
<circle cx="308.20" cy="568.40" r="1.2" fill="#3A973D"/>
<circle cx="323.25" cy="568.40" r="1.2" fill="#3A973D"/>
<circle cx="332.06" cy="568.40" r="1.2" fill="#3A973D"/>
<polyline points="208.20,504.78 223.25,504.78 232.06,504.70 238.30,504.57 243.15,504.47 247.11,504.39 250.45,504.32 253.35,504.27 255.91,504.25 258.20,504.25 273.25,504.25 282.06,504.14 288.30,503.74 293.15,503.44 297.11,503.19 300.45,502.97 303.35,502.60 305.91,502.21 308.20,501.86 323.25,499.34 332.06,498.17" fill="none" stroke="#E9A12F" stroke-width="1.35" stroke-linejoin="round" />
<circle cx="208.20" cy="504.78" r="1.3" fill="#E9A12F"/>
<circle cx="223.25" cy="504.78" r="1.3" fill="#E9A12F"/>
<circle cx="232.06" cy="504.70" r="1.3" fill="#E9A12F"/>
<circle cx="238.30" cy="504.57" r="1.3" fill="#E9A12F"/>
<circle cx="243.15" cy="504.47" r="1.3" fill="#E9A12F"/>
<circle cx="247.11" cy="504.39" r="1.3" fill="#E9A12F"/>
<circle cx="250.45" cy="504.32" r="1.3" fill="#E9A12F"/>
<circle cx="253.35" cy="504.27" r="1.3" fill="#E9A12F"/>
<circle cx="255.91" cy="504.25" r="1.3" fill="#E9A12F"/>
<circle cx="258.20" cy="504.25" r="1.3" fill="#E9A12F"/>
<circle cx="273.25" cy="504.25" r="1.3" fill="#E9A12F"/>
<circle cx="282.06" cy="504.14" r="1.3" fill="#E9A12F"/>
<circle cx="288.30" cy="503.74" r="1.3" fill="#E9A12F"/>
<circle cx="293.15" cy="503.44" r="1.3" fill="#E9A12F"/>
<circle cx="297.11" cy="503.19" r="1.3" fill="#E9A12F"/>
<circle cx="300.45" cy="502.97" r="1.3" fill="#E9A12F"/>
<circle cx="303.35" cy="502.60" r="1.3" fill="#E9A12F"/>
<circle cx="305.91" cy="502.21" r="1.3" fill="#E9A12F"/>
<circle cx="308.20" cy="501.86" r="1.3" fill="#E9A12F"/>
<circle cx="323.25" cy="499.34" r="1.3" fill="#E9A12F"/>
<circle cx="332.06" cy="498.17" r="1.3" fill="#E9A12F"/>
<polyline points="208.20,504.91 223.25,509.45 232.06,510.78 238.30,513.55 243.15,512.75 247.11,514.09 250.45,515.49 253.35,514.48 255.91,516.31 258.20,516.02 273.25,517.18 282.06,517.99 288.30,518.51 293.15,518.42 297.11,520.62 300.45,519.56 303.35,521.47 305.91,521.49 308.20,519.42 323.25,519.24 332.06,518.74" fill="none" stroke="#761F8C" stroke-width="1.4" stroke-linejoin="round" />
<polygon points="205.95,503.11 210.45,503.11 208.20,507.04" fill="#761F8C"/>
<polygon points="221.00,507.65 225.50,507.65 223.25,511.58" fill="#761F8C"/>
<polygon points="229.81,508.98 234.31,508.98 232.06,512.92" fill="#761F8C"/>
<polygon points="236.05,511.75 240.55,511.75 238.30,515.68" fill="#761F8C"/>
<polygon points="240.90,510.95 245.40,510.95 243.15,514.88" fill="#761F8C"/>
<polygon points="244.86,512.29 249.36,512.29 247.11,516.23" fill="#761F8C"/>
<polygon points="248.20,513.69 252.70,513.69 250.45,517.62" fill="#761F8C"/>
<polygon points="251.10,512.68 255.60,512.68 253.35,516.61" fill="#761F8C"/>
<polygon points="253.66,514.51 258.16,514.51 255.91,518.45" fill="#761F8C"/>
<polygon points="255.95,514.22 260.45,514.22 258.20,518.16" fill="#761F8C"/>
<polygon points="271.00,515.38 275.50,515.38 273.25,519.31" fill="#761F8C"/>
<polygon points="279.81,516.19 284.31,516.19 282.06,520.13" fill="#761F8C"/>
<polygon points="286.05,516.71 290.55,516.71 288.30,520.65" fill="#761F8C"/>
<polygon points="290.90,516.62 295.40,516.62 293.15,520.55" fill="#761F8C"/>
<polygon points="294.86,518.82 299.36,518.82 297.11,522.76" fill="#761F8C"/>
<polygon points="298.20,517.76 302.70,517.76 300.45,521.69" fill="#761F8C"/>
<polygon points="301.10,519.67 305.60,519.67 303.35,523.61" fill="#761F8C"/>
<polygon points="303.66,519.69 308.16,519.69 305.91,523.63" fill="#761F8C"/>
<polygon points="305.95,517.62 310.45,517.62 308.20,521.56" fill="#761F8C"/>
<polygon points="321.00,517.44 325.50,517.44 323.25,521.38" fill="#761F8C"/>
<polygon points="329.81,516.94 334.31,516.94 332.06,520.87" fill="#761F8C"/>
<rect x="203.30" y="466.0" width="134.30" height="110.30" fill="none" stroke="#1e1e1e" stroke-width="1.0"/>
<line x1="201.70" y1="568.40" x2="203.30" y2="568.40" stroke="#1e1e1e" stroke-width="0.9"/>
<text x="199.60" y="571.10" font-size="12" fill="#000" text-anchor="end" textLength="15.40" lengthAdjust="spacingAndGlyphs" >0.0</text>
<line x1="201.70" y1="527.35" x2="203.30" y2="527.35" stroke="#1e1e1e" stroke-width="0.9"/>
<text x="199.60" y="530.05" font-size="12" fill="#000" text-anchor="end" textLength="15.40" lengthAdjust="spacingAndGlyphs" >0.1</text>
<line x1="201.70" y1="486.30" x2="203.30" y2="486.30" stroke="#1e1e1e" stroke-width="0.9"/>
<text x="199.60" y="489.00" font-size="12" fill="#000" text-anchor="end" textLength="15.40" lengthAdjust="spacingAndGlyphs" >0.2</text>
<line x1="202.00" y1="547.88" x2="203.30" y2="547.88" stroke="#1e1e1e" stroke-width="0.8"/>
<line x1="202.00" y1="506.82" x2="203.30" y2="506.82" stroke="#1e1e1e" stroke-width="0.8"/>
<line x1="208.20" y1="576.30" x2="208.20" y2="578.10" stroke="#1e1e1e" stroke-width="0.9"/>
<line x1="223.25" y1="576.30" x2="223.25" y2="577.30" stroke="#1e1e1e" stroke-width="0.8"/>
<line x1="232.06" y1="576.30" x2="232.06" y2="577.30" stroke="#1e1e1e" stroke-width="0.8"/>
<line x1="238.30" y1="576.30" x2="238.30" y2="577.30" stroke="#1e1e1e" stroke-width="0.8"/>
<line x1="243.15" y1="576.30" x2="243.15" y2="577.30" stroke="#1e1e1e" stroke-width="0.8"/>
<line x1="247.11" y1="576.30" x2="247.11" y2="577.30" stroke="#1e1e1e" stroke-width="0.8"/>
<line x1="250.45" y1="576.30" x2="250.45" y2="577.30" stroke="#1e1e1e" stroke-width="0.8"/>
<line x1="253.35" y1="576.30" x2="253.35" y2="577.30" stroke="#1e1e1e" stroke-width="0.8"/>
<line x1="255.91" y1="576.30" x2="255.91" y2="577.30" stroke="#1e1e1e" stroke-width="0.8"/>
<line x1="258.20" y1="576.30" x2="258.20" y2="578.10" stroke="#1e1e1e" stroke-width="0.9"/>
<line x1="273.25" y1="576.30" x2="273.25" y2="577.30" stroke="#1e1e1e" stroke-width="0.8"/>
<line x1="282.06" y1="576.30" x2="282.06" y2="577.30" stroke="#1e1e1e" stroke-width="0.8"/>
<line x1="288.30" y1="576.30" x2="288.30" y2="577.30" stroke="#1e1e1e" stroke-width="0.8"/>
<line x1="293.15" y1="576.30" x2="293.15" y2="577.30" stroke="#1e1e1e" stroke-width="0.8"/>
<line x1="297.11" y1="576.30" x2="297.11" y2="577.30" stroke="#1e1e1e" stroke-width="0.8"/>
<line x1="300.45" y1="576.30" x2="300.45" y2="577.30" stroke="#1e1e1e" stroke-width="0.8"/>
<line x1="303.35" y1="576.30" x2="303.35" y2="577.30" stroke="#1e1e1e" stroke-width="0.8"/>
<line x1="305.91" y1="576.30" x2="305.91" y2="577.30" stroke="#1e1e1e" stroke-width="0.8"/>
<line x1="308.20" y1="576.30" x2="308.20" y2="578.10" stroke="#1e1e1e" stroke-width="0.9"/>
<line x1="323.25" y1="576.30" x2="323.25" y2="577.30" stroke="#1e1e1e" stroke-width="0.8"/>
<line x1="332.06" y1="576.30" x2="332.06" y2="577.30" stroke="#1e1e1e" stroke-width="0.8"/>
<text x="206.85" y="588.40" font-size="12" fill="#000" text-anchor="middle" >1</text>
<text x="257.65" y="588.40" font-size="12" fill="#000" text-anchor="middle" textLength="12.60" lengthAdjust="spacingAndGlyphs" >10</text>
<text x="309.85" y="588.40" font-size="12" fill="#000" text-anchor="middle" textLength="19.60" lengthAdjust="spacingAndGlyphs" >100</text>
<text x="259.70" y="594.9" font-size="12.5" font-style="italic" style="font-family:'Liberation Serif',serif">&#964;</text>
<text x="265.10" y="594.70" font-size="12" fill="#000" textLength="20.20" lengthAdjust="spacingAndGlyphs" >, ms</text>
<text x="334.40" y="480.70" font-size="16" fill="#000" text-anchor="end" textLength="23.20" lengthAdjust="spacingAndGlyphs" >ZM</text>
<polygon points="376.20,507.42 391.25,506.84 400.06,506.50 406.30,506.26 411.15,506.08 415.11,505.92 418.45,505.79 421.35,505.68 423.91,505.58 426.20,505.54 441.25,505.32 450.06,505.18 456.30,505.09 461.15,505.02 465.11,504.96 468.45,504.91 471.35,504.86 473.91,504.82 476.20,504.79 491.25,505.93 500.06,506.63 500.06,529.90 491.25,527.09 476.20,522.42 473.91,522.17 471.35,521.89 468.45,521.57 465.11,521.20 461.15,520.76 456.30,520.23 450.06,519.54 441.25,518.57 426.20,516.90 423.91,516.68 421.35,516.68 418.45,516.68 415.11,516.68 411.15,516.68 406.30,516.68 400.06,516.68 391.25,516.68 376.20,516.68" fill="#F9F2DA" />
<polygon points="376.20,502.14 391.25,505.46 400.06,507.40 406.30,508.77 411.15,509.84 415.11,510.72 418.45,511.45 421.35,512.09 423.91,512.66 426.20,512.97 441.25,514.86 450.06,515.96 456.30,516.74 461.15,517.35 465.11,517.85 468.45,518.27 471.35,518.63 473.91,518.95 476.20,519.24 491.25,523.42 500.06,525.93 500.06,543.12 491.25,538.10 476.20,529.79 473.91,529.43 471.35,529.01 468.45,528.55 465.11,528.01 461.15,527.38 456.30,526.60 450.06,525.60 441.25,524.18 426.20,521.77 423.91,521.38 421.35,520.73 418.45,519.99 415.11,519.14 411.15,518.14 406.30,516.91 400.06,515.33 391.25,513.09 376.20,509.28" fill="#761F8C" fill-opacity="0.24"/>
<polygon points="376.20,567.70 391.25,567.43 400.06,567.28 406.30,567.17 411.15,567.08 415.11,567.01 418.45,566.95 421.35,566.90 423.91,566.85 426.20,566.81 441.25,566.54 450.06,566.39 456.30,566.28 461.15,566.19 465.11,566.12 468.45,566.06 471.35,566.01 473.91,565.96 476.20,565.92 491.25,565.66 500.06,565.50 500.06,571.30 491.25,571.14 476.20,570.88 473.91,570.84 471.35,570.79 468.45,570.74 465.11,570.68 461.15,570.61 456.30,570.52 450.06,570.41 441.25,570.26 426.20,569.99 423.91,569.95 421.35,569.90 418.45,569.85 415.11,569.79 411.15,569.72 406.30,569.63 400.06,569.52 391.25,569.37 376.20,569.10" fill="#D3EBD3" />
<polyline points="376.20,568.40 391.25,568.40 400.06,568.40 406.30,568.40 411.15,568.40 415.11,568.40 418.45,568.40 421.35,568.40 423.91,568.40 426.20,568.40 441.25,568.40 450.06,568.40 456.30,568.40 461.15,568.40 465.11,568.40 468.45,568.40 471.35,568.40 473.91,568.40 476.20,568.40 491.25,568.40 500.06,568.40" fill="none" stroke="#3A973D" stroke-width="1.35" stroke-linejoin="round" />
<circle cx="376.20" cy="568.40" r="1.2" fill="#3A973D"/>
<circle cx="391.25" cy="568.40" r="1.2" fill="#3A973D"/>
<circle cx="400.06" cy="568.40" r="1.2" fill="#3A973D"/>
<circle cx="406.30" cy="568.40" r="1.2" fill="#3A973D"/>
<circle cx="411.15" cy="568.40" r="1.2" fill="#3A973D"/>
<circle cx="415.11" cy="568.40" r="1.2" fill="#3A973D"/>
<circle cx="418.45" cy="568.40" r="1.2" fill="#3A973D"/>
<circle cx="421.35" cy="568.40" r="1.2" fill="#3A973D"/>
<circle cx="423.91" cy="568.40" r="1.2" fill="#3A973D"/>
<circle cx="426.20" cy="568.40" r="1.2" fill="#3A973D"/>
<circle cx="441.25" cy="568.40" r="1.2" fill="#3A973D"/>
<circle cx="450.06" cy="568.40" r="1.2" fill="#3A973D"/>
<circle cx="456.30" cy="568.40" r="1.2" fill="#3A973D"/>
<circle cx="461.15" cy="568.40" r="1.2" fill="#3A973D"/>
<circle cx="465.11" cy="568.40" r="1.2" fill="#3A973D"/>
<circle cx="468.45" cy="568.40" r="1.2" fill="#3A973D"/>
<circle cx="471.35" cy="568.40" r="1.2" fill="#3A973D"/>
<circle cx="473.91" cy="568.40" r="1.2" fill="#3A973D"/>
<circle cx="476.20" cy="568.40" r="1.2" fill="#3A973D"/>
<circle cx="491.25" cy="568.40" r="1.2" fill="#3A973D"/>
<circle cx="500.06" cy="568.40" r="1.2" fill="#3A973D"/>
<polyline points="376.20,511.39 391.25,511.02 400.06,510.91 406.30,511.03 411.15,511.13 415.11,511.21 418.45,511.28 421.35,511.33 423.91,511.39 426.20,511.39 441.25,511.39 450.06,511.39 456.30,511.54 461.15,511.66 465.11,511.76 468.45,511.84 471.35,511.91 473.91,512.27 476.20,512.61 491.25,515.79 500.06,518.27" fill="none" stroke="#E9A12F" stroke-width="1.35" stroke-linejoin="round" />
<circle cx="376.20" cy="511.39" r="1.3" fill="#E9A12F"/>
<circle cx="391.25" cy="511.02" r="1.3" fill="#E9A12F"/>
<circle cx="400.06" cy="510.91" r="1.3" fill="#E9A12F"/>
<circle cx="406.30" cy="511.03" r="1.3" fill="#E9A12F"/>
<circle cx="411.15" cy="511.13" r="1.3" fill="#E9A12F"/>
<circle cx="415.11" cy="511.21" r="1.3" fill="#E9A12F"/>
<circle cx="418.45" cy="511.28" r="1.3" fill="#E9A12F"/>
<circle cx="421.35" cy="511.33" r="1.3" fill="#E9A12F"/>
<circle cx="423.91" cy="511.39" r="1.3" fill="#E9A12F"/>
<circle cx="426.20" cy="511.39" r="1.3" fill="#E9A12F"/>
<circle cx="441.25" cy="511.39" r="1.3" fill="#E9A12F"/>
<circle cx="450.06" cy="511.39" r="1.3" fill="#E9A12F"/>
<circle cx="456.30" cy="511.54" r="1.3" fill="#E9A12F"/>
<circle cx="461.15" cy="511.66" r="1.3" fill="#E9A12F"/>
<circle cx="465.11" cy="511.76" r="1.3" fill="#E9A12F"/>
<circle cx="468.45" cy="511.84" r="1.3" fill="#E9A12F"/>
<circle cx="471.35" cy="511.91" r="1.3" fill="#E9A12F"/>
<circle cx="473.91" cy="512.27" r="1.3" fill="#E9A12F"/>
<circle cx="476.20" cy="512.61" r="1.3" fill="#E9A12F"/>
<circle cx="491.25" cy="515.79" r="1.3" fill="#E9A12F"/>
<circle cx="500.06" cy="518.27" r="1.3" fill="#E9A12F"/>
<polyline points="376.20,507.35 391.25,508.39 400.06,511.39 406.30,512.78 411.15,515.36 415.11,514.96 418.45,517.13 421.35,515.59 423.91,518.11 426.20,516.90 441.25,518.66 450.06,520.19 456.30,522.15 461.15,521.57 465.11,523.18 468.45,522.79 471.35,523.45 473.91,524.45 476.20,525.30 491.25,530.59 500.06,538.03" fill="none" stroke="#761F8C" stroke-width="1.4" stroke-linejoin="round" />
<polygon points="373.95,505.55 378.45,505.55 376.20,509.48" fill="#761F8C"/>
<polygon points="389.00,506.59 393.50,506.59 391.25,510.52" fill="#761F8C"/>
<polygon points="397.81,509.59 402.31,509.59 400.06,513.53" fill="#761F8C"/>
<polygon points="404.05,510.98 408.55,510.98 406.30,514.92" fill="#761F8C"/>
<polygon points="408.90,513.56 413.40,513.56 411.15,517.49" fill="#761F8C"/>
<polygon points="412.86,513.16 417.36,513.16 415.11,517.10" fill="#761F8C"/>
<polygon points="416.20,515.33 420.70,515.33 418.45,519.27" fill="#761F8C"/>
<polygon points="419.10,513.79 423.60,513.79 421.35,517.73" fill="#761F8C"/>
<polygon points="421.66,516.31 426.16,516.31 423.91,520.25" fill="#761F8C"/>
<polygon points="423.95,515.10 428.45,515.10 426.20,519.04" fill="#761F8C"/>
<polygon points="439.00,516.86 443.50,516.86 441.25,520.80" fill="#761F8C"/>
<polygon points="447.81,518.39 452.31,518.39 450.06,522.33" fill="#761F8C"/>
<polygon points="454.05,520.35 458.55,520.35 456.30,524.28" fill="#761F8C"/>
<polygon points="458.90,519.77 463.40,519.77 461.15,523.70" fill="#761F8C"/>
<polygon points="462.86,521.38 467.36,521.38 465.11,525.32" fill="#761F8C"/>
<polygon points="466.20,520.99 470.70,520.99 468.45,524.93" fill="#761F8C"/>
<polygon points="469.10,521.65 473.60,521.65 471.35,525.59" fill="#761F8C"/>
<polygon points="471.66,522.65 476.16,522.65 473.91,526.59" fill="#761F8C"/>
<polygon points="473.95,523.50 478.45,523.50 476.20,527.43" fill="#761F8C"/>
<polygon points="489.00,528.79 493.50,528.79 491.25,532.73" fill="#761F8C"/>
<polygon points="497.81,536.23 502.31,536.23 500.06,540.16" fill="#761F8C"/>
<rect x="371.40" y="466.0" width="134.90" height="110.30" fill="none" stroke="#1e1e1e" stroke-width="1.0"/>
<line x1="369.80" y1="568.40" x2="371.40" y2="568.40" stroke="#1e1e1e" stroke-width="0.9"/>
<text x="367.70" y="571.10" font-size="12" fill="#000" text-anchor="end" textLength="15.40" lengthAdjust="spacingAndGlyphs" >0.0</text>
<line x1="369.80" y1="527.35" x2="371.40" y2="527.35" stroke="#1e1e1e" stroke-width="0.9"/>
<text x="367.70" y="530.05" font-size="12" fill="#000" text-anchor="end" textLength="15.40" lengthAdjust="spacingAndGlyphs" >0.1</text>
<line x1="369.80" y1="486.30" x2="371.40" y2="486.30" stroke="#1e1e1e" stroke-width="0.9"/>
<text x="367.70" y="489.00" font-size="12" fill="#000" text-anchor="end" textLength="15.40" lengthAdjust="spacingAndGlyphs" >0.2</text>
<line x1="370.10" y1="547.88" x2="371.40" y2="547.88" stroke="#1e1e1e" stroke-width="0.8"/>
<line x1="370.10" y1="506.82" x2="371.40" y2="506.82" stroke="#1e1e1e" stroke-width="0.8"/>
<line x1="376.20" y1="576.30" x2="376.20" y2="578.10" stroke="#1e1e1e" stroke-width="0.9"/>
<line x1="391.25" y1="576.30" x2="391.25" y2="577.30" stroke="#1e1e1e" stroke-width="0.8"/>
<line x1="400.06" y1="576.30" x2="400.06" y2="577.30" stroke="#1e1e1e" stroke-width="0.8"/>
<line x1="406.30" y1="576.30" x2="406.30" y2="577.30" stroke="#1e1e1e" stroke-width="0.8"/>
<line x1="411.15" y1="576.30" x2="411.15" y2="577.30" stroke="#1e1e1e" stroke-width="0.8"/>
<line x1="415.11" y1="576.30" x2="415.11" y2="577.30" stroke="#1e1e1e" stroke-width="0.8"/>
<line x1="418.45" y1="576.30" x2="418.45" y2="577.30" stroke="#1e1e1e" stroke-width="0.8"/>
<line x1="421.35" y1="576.30" x2="421.35" y2="577.30" stroke="#1e1e1e" stroke-width="0.8"/>
<line x1="423.91" y1="576.30" x2="423.91" y2="577.30" stroke="#1e1e1e" stroke-width="0.8"/>
<line x1="426.20" y1="576.30" x2="426.20" y2="578.10" stroke="#1e1e1e" stroke-width="0.9"/>
<line x1="441.25" y1="576.30" x2="441.25" y2="577.30" stroke="#1e1e1e" stroke-width="0.8"/>
<line x1="450.06" y1="576.30" x2="450.06" y2="577.30" stroke="#1e1e1e" stroke-width="0.8"/>
<line x1="456.30" y1="576.30" x2="456.30" y2="577.30" stroke="#1e1e1e" stroke-width="0.8"/>
<line x1="461.15" y1="576.30" x2="461.15" y2="577.30" stroke="#1e1e1e" stroke-width="0.8"/>
<line x1="465.11" y1="576.30" x2="465.11" y2="577.30" stroke="#1e1e1e" stroke-width="0.8"/>
<line x1="468.45" y1="576.30" x2="468.45" y2="577.30" stroke="#1e1e1e" stroke-width="0.8"/>
<line x1="471.35" y1="576.30" x2="471.35" y2="577.30" stroke="#1e1e1e" stroke-width="0.8"/>
<line x1="473.91" y1="576.30" x2="473.91" y2="577.30" stroke="#1e1e1e" stroke-width="0.8"/>
<line x1="476.20" y1="576.30" x2="476.20" y2="578.10" stroke="#1e1e1e" stroke-width="0.9"/>
<line x1="491.25" y1="576.30" x2="491.25" y2="577.30" stroke="#1e1e1e" stroke-width="0.8"/>
<line x1="500.06" y1="576.30" x2="500.06" y2="577.30" stroke="#1e1e1e" stroke-width="0.8"/>
<text x="374.85" y="588.40" font-size="12" fill="#000" text-anchor="middle" >1</text>
<text x="425.65" y="588.40" font-size="12" fill="#000" text-anchor="middle" textLength="12.60" lengthAdjust="spacingAndGlyphs" >10</text>
<text x="477.85" y="588.40" font-size="12" fill="#000" text-anchor="middle" textLength="19.60" lengthAdjust="spacingAndGlyphs" >100</text>
<text x="427.80" y="594.9" font-size="12.5" font-style="italic" style="font-family:'Liberation Serif',serif">&#964;</text>
<text x="433.20" y="594.70" font-size="12" fill="#000" textLength="20.20" lengthAdjust="spacingAndGlyphs" >, ms</text>
<text x="502.70" y="480.70" font-size="16" fill="#000" text-anchor="end" textLength="44.20" lengthAdjust="spacingAndGlyphs" >NECA</text>
<polygon points="544.20,496.85 559.25,496.06 568.06,495.60 574.30,495.28 579.15,495.02 583.11,494.81 586.45,494.64 589.35,494.49 591.91,494.35 594.20,494.24 609.25,494.71 618.06,495.02 624.30,495.24 629.15,495.41 633.11,495.55 636.45,495.67 639.35,495.77 641.91,495.86 644.20,495.94 659.25,498.78 668.06,500.81 668.06,525.93 659.25,521.97 644.20,516.31 641.91,516.06 639.35,515.78 636.45,515.46 633.11,515.09 629.15,514.65 624.30,514.12 618.06,513.43 609.25,512.46 594.20,510.85 591.91,510.82 589.35,510.78 586.45,510.73 583.11,510.68 579.15,510.62 574.30,510.54 568.06,510.44 559.25,510.30 544.20,510.07" fill="#F9F2DA" />
<polygon points="544.20,492.88 559.25,498.55 568.06,501.86 574.30,504.21 579.15,506.03 583.11,507.52 586.45,508.78 589.35,509.87 591.91,510.83 594.20,511.70 609.25,514.31 618.06,515.77 624.30,516.80 629.15,517.61 633.11,518.26 636.45,518.82 639.35,519.30 641.91,519.72 644.20,520.10 659.25,525.94 668.06,529.90 668.06,544.44 659.25,538.78 644.20,530.48 641.91,529.96 639.35,529.38 636.45,528.73 633.11,527.97 629.15,527.08 624.30,525.98 618.06,524.57 609.25,522.59 594.20,519.14 591.91,518.42 589.35,517.62 586.45,516.71 583.11,515.66 579.15,514.42 574.30,512.90 568.06,510.94 559.25,508.18 544.20,503.46" fill="#761F8C" fill-opacity="0.24"/>
<polygon points="544.20,567.70 559.25,567.43 568.06,567.28 574.30,567.17 579.15,567.08 583.11,567.01 586.45,566.95 589.35,566.90 591.91,566.85 594.20,566.81 609.25,566.54 618.06,566.39 624.30,566.28 629.15,566.19 633.11,566.12 636.45,566.06 639.35,566.01 641.91,565.96 644.20,565.92 659.25,565.66 668.06,565.50 668.06,571.30 659.25,571.14 644.20,570.88 641.91,570.84 639.35,570.79 636.45,570.74 633.11,570.68 629.15,570.61 624.30,570.52 618.06,570.41 609.25,570.26 594.20,569.99 591.91,569.95 589.35,569.90 586.45,569.85 583.11,569.79 579.15,569.72 574.30,569.63 568.06,569.52 559.25,569.37 544.20,569.10" fill="#D3EBD3" />
<polyline points="544.20,568.40 559.25,568.40 568.06,568.40 574.30,568.40 579.15,568.40 583.11,568.40 586.45,568.40 589.35,568.40 591.91,568.40 594.20,568.40 609.25,568.40 618.06,568.40 624.30,568.40 629.15,568.40 633.11,568.40 636.45,568.40 639.35,568.40 641.91,568.40 644.20,568.40 659.25,568.40 668.06,568.40" fill="none" stroke="#3A973D" stroke-width="1.35" stroke-linejoin="round" />
<circle cx="544.20" cy="568.40" r="1.2" fill="#3A973D"/>
<circle cx="559.25" cy="568.40" r="1.2" fill="#3A973D"/>
<circle cx="568.06" cy="568.40" r="1.2" fill="#3A973D"/>
<circle cx="574.30" cy="568.40" r="1.2" fill="#3A973D"/>
<circle cx="579.15" cy="568.40" r="1.2" fill="#3A973D"/>
<circle cx="583.11" cy="568.40" r="1.2" fill="#3A973D"/>
<circle cx="586.45" cy="568.40" r="1.2" fill="#3A973D"/>
<circle cx="589.35" cy="568.40" r="1.2" fill="#3A973D"/>
<circle cx="591.91" cy="568.40" r="1.2" fill="#3A973D"/>
<circle cx="594.20" cy="568.40" r="1.2" fill="#3A973D"/>
<circle cx="609.25" cy="568.40" r="1.2" fill="#3A973D"/>
<circle cx="618.06" cy="568.40" r="1.2" fill="#3A973D"/>
<circle cx="624.30" cy="568.40" r="1.2" fill="#3A973D"/>
<circle cx="629.15" cy="568.40" r="1.2" fill="#3A973D"/>
<circle cx="633.11" cy="568.40" r="1.2" fill="#3A973D"/>
<circle cx="636.45" cy="568.40" r="1.2" fill="#3A973D"/>
<circle cx="639.35" cy="568.40" r="1.2" fill="#3A973D"/>
<circle cx="641.91" cy="568.40" r="1.2" fill="#3A973D"/>
<circle cx="644.20" cy="568.40" r="1.2" fill="#3A973D"/>
<circle cx="659.25" cy="568.40" r="1.2" fill="#3A973D"/>
<circle cx="668.06" cy="568.40" r="1.2" fill="#3A973D"/>
<polyline points="544.20,502.93 559.25,502.93 568.06,502.93 574.30,502.93 579.15,502.93 583.11,502.93 586.45,502.93 589.35,502.93 591.91,502.93 594.20,502.93 609.25,503.22 618.06,503.40 624.30,503.66 629.15,503.96 633.11,504.21 636.45,504.42 639.35,504.60 641.91,504.76 644.20,505.03 659.25,508.18 668.06,514.56" fill="none" stroke="#E9A12F" stroke-width="1.35" stroke-linejoin="round" />
<circle cx="544.20" cy="502.93" r="1.3" fill="#E9A12F"/>
<circle cx="559.25" cy="502.93" r="1.3" fill="#E9A12F"/>
<circle cx="568.06" cy="502.93" r="1.3" fill="#E9A12F"/>
<circle cx="574.30" cy="502.93" r="1.3" fill="#E9A12F"/>
<circle cx="579.15" cy="502.93" r="1.3" fill="#E9A12F"/>
<circle cx="583.11" cy="502.93" r="1.3" fill="#E9A12F"/>
<circle cx="586.45" cy="502.93" r="1.3" fill="#E9A12F"/>
<circle cx="589.35" cy="502.93" r="1.3" fill="#E9A12F"/>
<circle cx="591.91" cy="502.93" r="1.3" fill="#E9A12F"/>
<circle cx="594.20" cy="502.93" r="1.3" fill="#E9A12F"/>
<circle cx="609.25" cy="503.22" r="1.3" fill="#E9A12F"/>
<circle cx="618.06" cy="503.40" r="1.3" fill="#E9A12F"/>
<circle cx="624.30" cy="503.66" r="1.3" fill="#E9A12F"/>
<circle cx="629.15" cy="503.96" r="1.3" fill="#E9A12F"/>
<circle cx="633.11" cy="504.21" r="1.3" fill="#E9A12F"/>
<circle cx="636.45" cy="504.42" r="1.3" fill="#E9A12F"/>
<circle cx="639.35" cy="504.60" r="1.3" fill="#E9A12F"/>
<circle cx="641.91" cy="504.76" r="1.3" fill="#E9A12F"/>
<circle cx="644.20" cy="505.03" r="1.3" fill="#E9A12F"/>
<circle cx="659.25" cy="508.18" r="1.3" fill="#E9A12F"/>
<circle cx="668.06" cy="514.56" r="1.3" fill="#E9A12F"/>
<polyline points="544.20,498.47 559.25,507.13 568.06,509.79 574.30,510.62 579.15,511.25 583.11,511.16 586.45,513.10 589.35,514.54 591.91,516.16 594.20,514.63 609.25,517.73 618.06,520.83 624.30,521.28 629.15,521.24 633.11,523.48 636.45,522.83 639.35,524.06 641.91,524.91 644.20,524.96 659.25,528.93 668.06,537.85" fill="none" stroke="#761F8C" stroke-width="1.4" stroke-linejoin="round" />
<polygon points="541.95,496.67 546.45,496.67 544.20,500.61" fill="#761F8C"/>
<polygon points="557.00,505.33 561.50,505.33 559.25,509.27" fill="#761F8C"/>
<polygon points="565.81,507.99 570.31,507.99 568.06,511.93" fill="#761F8C"/>
<polygon points="572.05,508.82 576.55,508.82 574.30,512.76" fill="#761F8C"/>
<polygon points="576.90,509.45 581.40,509.45 579.15,513.38" fill="#761F8C"/>
<polygon points="580.86,509.36 585.36,509.36 583.11,513.29" fill="#761F8C"/>
<polygon points="584.20,511.30 588.70,511.30 586.45,515.24" fill="#761F8C"/>
<polygon points="587.10,512.74 591.60,512.74 589.35,516.68" fill="#761F8C"/>
<polygon points="589.66,514.36 594.16,514.36 591.91,518.30" fill="#761F8C"/>
<polygon points="591.95,512.83 596.45,512.83 594.20,516.77" fill="#761F8C"/>
<polygon points="607.00,515.93 611.50,515.93 609.25,519.87" fill="#761F8C"/>
<polygon points="615.81,519.03 620.31,519.03 618.06,522.97" fill="#761F8C"/>
<polygon points="622.05,519.48 626.55,519.48 624.30,523.42" fill="#761F8C"/>
<polygon points="626.90,519.44 631.40,519.44 629.15,523.37" fill="#761F8C"/>
<polygon points="630.86,521.68 635.36,521.68 633.11,525.62" fill="#761F8C"/>
<polygon points="634.20,521.03 638.70,521.03 636.45,524.97" fill="#761F8C"/>
<polygon points="637.10,522.26 641.60,522.26 639.35,526.19" fill="#761F8C"/>
<polygon points="639.66,523.11 644.16,523.11 641.91,527.04" fill="#761F8C"/>
<polygon points="641.95,523.16 646.45,523.16 644.20,527.10" fill="#761F8C"/>
<polygon points="657.00,527.13 661.50,527.13 659.25,531.07" fill="#761F8C"/>
<polygon points="665.81,536.05 670.31,536.05 668.06,539.99" fill="#761F8C"/>
<rect x="539.30" y="466.0" width="134.80" height="110.30" fill="none" stroke="#1e1e1e" stroke-width="1.0"/>
<line x1="537.70" y1="568.40" x2="539.30" y2="568.40" stroke="#1e1e1e" stroke-width="0.9"/>
<text x="535.60" y="571.10" font-size="12" fill="#000" text-anchor="end" textLength="15.40" lengthAdjust="spacingAndGlyphs" >0.0</text>
<line x1="537.70" y1="527.35" x2="539.30" y2="527.35" stroke="#1e1e1e" stroke-width="0.9"/>
<text x="535.60" y="530.05" font-size="12" fill="#000" text-anchor="end" textLength="15.40" lengthAdjust="spacingAndGlyphs" >0.1</text>
<line x1="537.70" y1="486.30" x2="539.30" y2="486.30" stroke="#1e1e1e" stroke-width="0.9"/>
<text x="535.60" y="489.00" font-size="12" fill="#000" text-anchor="end" textLength="15.40" lengthAdjust="spacingAndGlyphs" >0.2</text>
<line x1="538.00" y1="547.88" x2="539.30" y2="547.88" stroke="#1e1e1e" stroke-width="0.8"/>
<line x1="538.00" y1="506.82" x2="539.30" y2="506.82" stroke="#1e1e1e" stroke-width="0.8"/>
<line x1="544.20" y1="576.30" x2="544.20" y2="578.10" stroke="#1e1e1e" stroke-width="0.9"/>
<line x1="559.25" y1="576.30" x2="559.25" y2="577.30" stroke="#1e1e1e" stroke-width="0.8"/>
<line x1="568.06" y1="576.30" x2="568.06" y2="577.30" stroke="#1e1e1e" stroke-width="0.8"/>
<line x1="574.30" y1="576.30" x2="574.30" y2="577.30" stroke="#1e1e1e" stroke-width="0.8"/>
<line x1="579.15" y1="576.30" x2="579.15" y2="577.30" stroke="#1e1e1e" stroke-width="0.8"/>
<line x1="583.11" y1="576.30" x2="583.11" y2="577.30" stroke="#1e1e1e" stroke-width="0.8"/>
<line x1="586.45" y1="576.30" x2="586.45" y2="577.30" stroke="#1e1e1e" stroke-width="0.8"/>
<line x1="589.35" y1="576.30" x2="589.35" y2="577.30" stroke="#1e1e1e" stroke-width="0.8"/>
<line x1="591.91" y1="576.30" x2="591.91" y2="577.30" stroke="#1e1e1e" stroke-width="0.8"/>
<line x1="594.20" y1="576.30" x2="594.20" y2="578.10" stroke="#1e1e1e" stroke-width="0.9"/>
<line x1="609.25" y1="576.30" x2="609.25" y2="577.30" stroke="#1e1e1e" stroke-width="0.8"/>
<line x1="618.06" y1="576.30" x2="618.06" y2="577.30" stroke="#1e1e1e" stroke-width="0.8"/>
<line x1="624.30" y1="576.30" x2="624.30" y2="577.30" stroke="#1e1e1e" stroke-width="0.8"/>
<line x1="629.15" y1="576.30" x2="629.15" y2="577.30" stroke="#1e1e1e" stroke-width="0.8"/>
<line x1="633.11" y1="576.30" x2="633.11" y2="577.30" stroke="#1e1e1e" stroke-width="0.8"/>
<line x1="636.45" y1="576.30" x2="636.45" y2="577.30" stroke="#1e1e1e" stroke-width="0.8"/>
<line x1="639.35" y1="576.30" x2="639.35" y2="577.30" stroke="#1e1e1e" stroke-width="0.8"/>
<line x1="641.91" y1="576.30" x2="641.91" y2="577.30" stroke="#1e1e1e" stroke-width="0.8"/>
<line x1="644.20" y1="576.30" x2="644.20" y2="578.10" stroke="#1e1e1e" stroke-width="0.9"/>
<line x1="659.25" y1="576.30" x2="659.25" y2="577.30" stroke="#1e1e1e" stroke-width="0.8"/>
<line x1="668.06" y1="576.30" x2="668.06" y2="577.30" stroke="#1e1e1e" stroke-width="0.8"/>
<text x="542.85" y="588.40" font-size="12" fill="#000" text-anchor="middle" >1</text>
<text x="593.65" y="588.40" font-size="12" fill="#000" text-anchor="middle" textLength="12.60" lengthAdjust="spacingAndGlyphs" >10</text>
<text x="645.85" y="588.40" font-size="12" fill="#000" text-anchor="middle" textLength="19.60" lengthAdjust="spacingAndGlyphs" >100</text>
<text x="595.70" y="594.9" font-size="12.5" font-style="italic" style="font-family:'Liberation Serif',serif">&#964;</text>
<text x="601.10" y="594.70" font-size="12" fill="#000" textLength="20.20" lengthAdjust="spacingAndGlyphs" >, ms</text>
<text x="673.00" y="480.70" font-size="16" fill="#000" text-anchor="end" textLength="33.40" lengthAdjust="spacingAndGlyphs" >ADN</text>
<text transform="translate(11.3,525.8) rotate(-90)" font-size="12" text-anchor="middle">G(<tspan font-style="italic" style="font-family:'Liberation Serif',serif">&#964;</tspan>)</text>
</svg></body></html>
